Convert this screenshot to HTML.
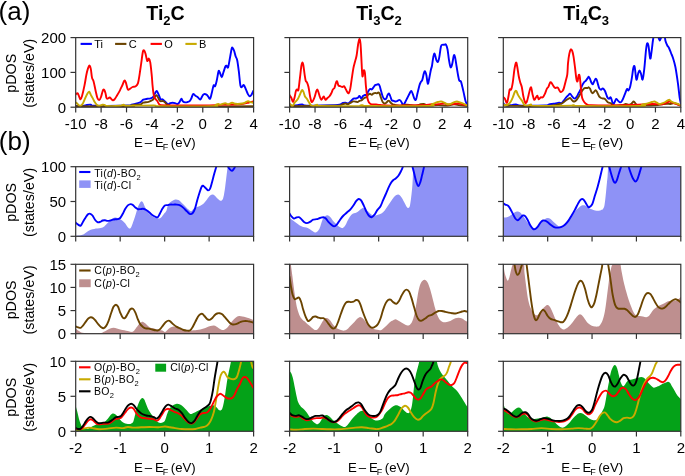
<!DOCTYPE html><html><head><meta charset="utf-8"><style>html,body{margin:0;padding:0;background:#fff;width:685px;height:476px;overflow:hidden}</style></head><body><svg width="685" height="476" viewBox="0 0 685 476" style="position:absolute;left:0;top:0;will-change:transform">
<defs><clipPath id="c0a"><rect x="75.7" y="37.6" width="177.9" height="69.6"/></clipPath><clipPath id="c0b1"><rect x="75.7" y="166.7" width="177.9" height="69.6"/></clipPath><clipPath id="c0b2"><rect x="75.7" y="264.3" width="177.9" height="69.4"/></clipPath><clipPath id="c0b3"><rect x="75.7" y="361.3" width="177.9" height="70"/></clipPath><clipPath id="c1a"><rect x="289.6" y="37.6" width="178.1" height="69.6"/></clipPath><clipPath id="c1b1"><rect x="289.6" y="166.7" width="178.1" height="69.6"/></clipPath><clipPath id="c1b2"><rect x="289.6" y="264.3" width="178.1" height="69.4"/></clipPath><clipPath id="c1b3"><rect x="289.6" y="361.3" width="178.1" height="70"/></clipPath><clipPath id="c2a"><rect x="503.3" y="37.6" width="177.5" height="69.6"/></clipPath><clipPath id="c2b1"><rect x="503.3" y="166.7" width="177.5" height="69.6"/></clipPath><clipPath id="c2b2"><rect x="503.3" y="264.3" width="177.5" height="69.4"/></clipPath><clipPath id="c2b3"><rect x="503.3" y="361.3" width="177.5" height="70"/></clipPath></defs>
<g font-family='"Liberation Sans", sans-serif' fill="#000">
<text x="-1.4" y="20" font-size="26">(a)</text>
<text x="-1.2" y="150.4" font-size="26">(b)</text>
<text x="165.5" y="19.6" font-size="19.6" font-weight="bold" text-anchor="middle">Ti<tspan font-size="13" dy="4.9">2</tspan><tspan dy="-4.9">C</tspan></text>
<text x="379.0" y="19.6" font-size="19.6" font-weight="bold" text-anchor="middle">Ti<tspan font-size="13" dy="4.9">3</tspan><tspan dy="-4.9">C</tspan><tspan font-size="13" dy="4.9">2</tspan></text>
<text x="586.2" y="19.6" font-size="19.6" font-weight="bold" text-anchor="middle">Ti<tspan font-size="13" dy="4.9">4</tspan><tspan dy="-4.9">C</tspan><tspan font-size="13" dy="4.9">3</tspan></text>
<g clip-path="url(#c0a)" fill="none" stroke-width="1.9" stroke-linejoin="round" stroke-linecap="round">
<path d="M75.70,106.00 C76.92,106.00 81.15,106.17 83.00,106.00 C84.85,105.83 85.50,105.22 86.80,105.00 C88.10,104.78 89.48,104.57 90.80,104.70 C92.12,104.83 88.57,105.68 94.70,105.80 C100.83,105.92 121.47,105.58 127.60,105.40 C133.73,105.22 129.97,105.03 131.50,104.70 C133.03,104.37 135.27,103.83 136.80,103.40 C138.33,102.97 139.62,102.72 140.70,102.10 C141.78,101.48 142.20,100.25 143.30,99.70 C144.40,99.15 146.08,99.02 147.30,98.80 C148.52,98.58 149.62,98.73 150.60,98.40 C151.58,98.07 152.43,97.72 153.20,96.80 C153.97,95.88 154.62,93.88 155.20,92.90 C155.78,91.92 156.23,90.87 156.70,90.90 C157.17,90.93 157.48,92.00 158.00,93.10 C158.52,94.20 159.38,96.45 159.80,97.50 C160.22,98.55 160.07,99.10 160.50,99.40 C160.93,99.70 161.83,99.13 162.40,99.30 C162.97,99.47 163.38,99.95 163.90,100.40 C164.42,100.85 164.97,101.48 165.50,102.00 C166.03,102.52 166.57,103.12 167.10,103.50 C167.63,103.88 168.18,104.37 168.70,104.30 C169.22,104.23 169.55,103.37 170.20,103.10 C170.85,102.83 171.80,102.70 172.60,102.70 C173.40,102.70 174.22,102.88 175.00,103.10 C175.78,103.32 176.60,104.07 177.30,104.00 C178.00,103.93 178.53,103.57 179.20,102.70 C179.87,101.83 180.70,99.05 181.30,98.80 C181.90,98.55 182.15,100.60 182.80,101.20 C183.45,101.80 184.40,102.27 185.20,102.40 C186.00,102.53 186.82,102.25 187.60,102.00 C188.38,101.75 189.25,101.57 189.90,100.90 C190.55,100.23 190.97,99.13 191.50,98.00 C192.03,96.87 192.45,94.48 193.10,94.10 C193.75,93.72 194.62,95.18 195.40,95.70 C196.18,96.22 197.00,96.55 197.80,97.20 C198.60,97.85 199.42,99.85 200.20,99.60 C200.98,99.35 201.85,96.62 202.50,95.70 C203.15,94.78 203.43,94.28 204.10,94.10 C204.77,93.92 205.83,94.22 206.50,94.60 C207.17,94.98 207.50,95.70 208.10,96.40 C208.70,97.10 209.50,99.32 210.10,98.80 C210.70,98.28 211.12,95.53 211.70,93.30 C212.28,91.07 213.03,86.58 213.60,85.40 C214.17,84.22 214.58,86.98 215.10,86.20 C215.62,85.42 216.12,83.20 216.70,80.70 C217.28,78.20 218.07,72.52 218.60,71.20 C219.13,69.88 219.37,71.80 219.90,72.80 C220.43,73.80 221.23,77.20 221.80,77.20 C222.37,77.20 222.70,74.58 223.30,72.80 C223.90,71.02 224.87,67.68 225.40,66.50 C225.93,65.32 226.05,65.57 226.50,65.70 C226.95,65.83 227.50,68.73 228.10,67.30 C228.70,65.87 229.50,60.25 230.10,57.10 C230.70,53.95 231.28,49.93 231.70,48.40 C232.12,46.87 232.20,47.50 232.60,47.90 C233.00,48.30 233.60,49.40 234.10,50.80 C234.60,52.20 235.08,54.73 235.60,56.30 C236.12,57.87 236.67,57.72 237.20,60.20 C237.73,62.68 238.27,67.00 238.80,71.20 C239.33,75.40 239.88,82.77 240.40,85.40 C240.92,88.03 241.33,87.05 241.90,87.00 C242.47,86.95 243.13,84.70 243.80,85.10 C244.47,85.50 245.22,87.90 245.90,89.40 C246.58,90.90 247.25,92.93 247.90,94.10 C248.55,95.27 249.22,96.27 249.80,96.40 C250.38,96.53 250.77,95.88 251.40,94.90 C252.03,93.92 253.23,91.23 253.60,90.50" stroke="#0000ff"/>
<path d="M75.70,106.30 C84.75,106.30 120.70,106.45 130.00,106.30 C139.30,106.15 130.37,105.67 131.50,105.40 C132.63,105.13 135.27,104.87 136.80,104.70 C138.33,104.53 139.62,104.73 140.70,104.40 C141.78,104.07 141.98,103.13 143.30,102.70 C144.62,102.27 147.07,102.23 148.60,101.80 C150.13,101.37 151.52,100.82 152.50,100.10 C153.48,99.38 153.83,98.32 154.50,97.50 C155.17,96.68 155.85,95.10 156.50,95.20 C157.15,95.30 157.82,97.13 158.40,98.10 C158.98,99.07 159.27,100.50 160.00,101.00 C160.73,101.50 161.98,100.90 162.80,101.10 C163.62,101.30 164.22,101.62 164.90,102.20 C165.58,102.78 166.10,104.05 166.90,104.60 C167.70,105.15 168.85,105.22 169.70,105.50 C170.55,105.78 158.02,106.17 172.00,106.30 C185.98,106.43 240.00,106.30 253.60,106.30" stroke="#6b4400"/>
<path d="M75.70,94.50 C75.80,94.38 75.95,94.00 76.30,93.80 C76.65,93.60 77.28,92.72 77.80,93.30 C78.32,93.88 78.95,96.30 79.40,97.30 C79.85,98.30 80.05,99.57 80.50,99.30 C80.95,99.03 81.43,98.02 82.10,95.70 C82.77,93.38 83.72,89.22 84.50,85.40 C85.28,81.58 86.02,76.08 86.80,72.80 C87.58,69.52 88.53,66.35 89.20,65.70 C89.87,65.05 90.33,66.92 90.80,68.90 C91.27,70.88 91.53,75.50 92.00,77.60 C92.47,79.70 93.02,79.40 93.60,81.50 C94.18,83.60 94.87,87.45 95.50,90.20 C96.13,92.95 96.75,96.38 97.40,98.00 C98.05,99.62 98.80,100.07 99.40,99.90 C100.00,99.73 100.35,98.72 101.00,97.00 C101.65,95.28 102.58,90.35 103.30,89.60 C104.02,88.85 104.77,91.10 105.30,92.50 C105.83,93.90 106.08,96.98 106.50,98.00 C106.92,99.02 107.25,98.68 107.80,98.60 C108.35,98.52 109.02,97.25 109.80,97.50 C110.58,97.75 111.73,99.77 112.50,100.10 C113.27,100.43 113.65,100.27 114.40,99.50 C115.15,98.73 116.12,96.93 117.00,95.50 C117.88,94.07 119.08,92.05 119.70,90.90 C120.32,89.75 120.27,89.52 120.70,88.60 C121.13,87.68 121.70,86.72 122.30,85.40 C122.90,84.08 123.72,81.22 124.30,80.70 C124.88,80.18 125.22,80.85 125.80,82.30 C126.38,83.75 127.07,88.35 127.80,89.40 C128.53,90.45 129.42,89.00 130.20,88.60 C130.98,88.20 131.58,87.40 132.50,87.00 C133.42,86.60 134.78,86.85 135.70,86.20 C136.62,85.55 137.35,85.07 138.00,83.10 C138.65,81.13 139.07,77.68 139.60,74.40 C140.13,71.12 140.67,67.08 141.20,63.40 C141.73,59.72 142.33,54.47 142.80,52.30 C143.27,50.13 143.53,50.13 144.00,50.40 C144.47,50.67 145.07,52.13 145.60,53.90 C146.13,55.67 146.67,60.22 147.20,61.00 C147.73,61.78 148.28,58.33 148.80,58.60 C149.32,58.87 149.80,59.70 150.30,62.60 C150.80,65.50 151.43,72.27 151.80,76.00 C152.17,79.73 152.23,82.18 152.50,85.00 C152.77,87.82 153.07,90.82 153.40,92.90 C153.73,94.98 153.88,96.18 154.50,97.50 C155.12,98.82 156.33,99.70 157.10,100.80 C157.87,101.90 158.43,103.37 159.10,104.10 C159.77,104.83 159.28,104.98 161.10,105.20 C162.92,105.42 163.52,105.35 170.00,105.40 C176.48,105.45 192.42,105.52 200.00,105.50 C207.58,105.48 211.77,105.45 215.50,105.30 C219.23,105.15 219.65,104.72 222.40,104.60 C225.15,104.48 228.53,104.72 232.00,104.60 C235.47,104.48 240.40,104.25 243.20,103.90 C246.00,103.55 247.07,102.95 248.80,102.50 C250.53,102.05 252.80,101.42 253.60,101.20" stroke="#ff0000"/>
<path d="M75.70,102.50 C75.80,102.53 75.87,102.33 76.30,102.70 C76.73,103.07 77.63,104.18 78.30,104.70 C78.97,105.22 79.53,106.02 80.30,105.80 C81.07,105.58 82.03,104.78 82.90,103.40 C83.77,102.02 84.73,99.15 85.50,97.50 C86.27,95.85 86.88,94.48 87.50,93.50 C88.12,92.52 88.65,91.37 89.20,91.60 C89.75,91.83 90.22,93.82 90.80,94.90 C91.38,95.98 92.05,96.90 92.70,98.10 C93.35,99.30 94.03,101.00 94.70,102.10 C95.37,103.20 95.93,104.08 96.70,104.70 C97.47,105.32 98.32,105.80 99.30,105.80 C100.28,105.80 101.72,104.83 102.60,104.70 C103.48,104.57 103.83,104.78 104.60,105.00 C105.37,105.22 104.68,105.87 107.20,106.00 C109.72,106.13 116.97,106.02 119.70,105.80 C122.43,105.58 122.28,104.70 123.60,104.70 C124.92,104.70 122.57,105.67 127.60,105.80 C132.63,105.93 148.40,105.42 153.80,105.50 C159.20,105.58 150.13,106.17 160.00,106.30 C169.87,106.43 203.75,106.52 213.00,106.30 C222.25,106.08 214.62,105.40 215.50,105.00 C216.38,104.60 217.47,103.97 218.30,103.90 C219.13,103.83 219.35,104.72 220.50,104.60 C221.65,104.48 223.95,103.23 225.20,103.20 C226.45,103.17 226.85,104.47 228.00,104.40 C229.15,104.33 230.85,102.90 232.10,102.80 C233.35,102.70 234.18,103.63 235.50,103.80 C236.82,103.97 238.48,103.97 240.00,103.80 C241.52,103.63 243.25,103.25 244.60,102.80 C245.95,102.35 247.12,101.20 248.10,101.10 C249.08,101.00 249.58,101.88 250.50,102.20 C251.42,102.52 253.08,102.87 253.60,103.00" stroke="#c8aa00"/>
</g>
<g clip-path="url(#c1a)" fill="none" stroke-width="1.9" stroke-linejoin="round" stroke-linecap="round">
<path d="M289.60,106.00 C290.92,105.85 295.40,105.37 297.50,105.10 C299.60,104.83 300.63,104.32 302.20,104.40 C303.77,104.48 301.43,105.47 306.90,105.60 C312.37,105.73 329.43,105.42 335.00,105.20 C340.57,104.98 338.98,104.67 340.30,104.30 C341.62,103.93 342.03,103.28 342.90,103.00 C343.77,102.72 344.63,102.52 345.50,102.60 C346.37,102.68 347.22,103.72 348.10,103.50 C348.98,103.28 349.92,102.12 350.80,101.30 C351.68,100.48 352.53,99.07 353.40,98.60 C354.27,98.13 355.27,98.63 356.00,98.50 C356.73,98.37 357.22,98.22 357.80,97.80 C358.38,97.38 358.92,95.88 359.50,96.00 C360.08,96.12 360.72,98.50 361.30,98.50 C361.88,98.50 362.42,96.58 363.00,96.00 C363.58,95.42 364.22,95.22 364.80,95.00 C365.38,94.78 365.92,95.33 366.50,94.70 C367.08,94.07 367.72,92.15 368.30,91.20 C368.88,90.25 369.42,89.30 370.00,89.00 C370.58,88.70 371.22,89.68 371.80,89.40 C372.38,89.12 372.92,88.02 373.50,87.30 C374.08,86.58 374.72,85.55 375.30,85.10 C375.88,84.65 376.50,84.75 377.00,84.60 C377.50,84.45 377.85,83.97 378.30,84.20 C378.75,84.43 379.25,84.90 379.70,86.00 C380.15,87.10 380.50,89.05 381.00,90.80 C381.50,92.55 382.12,95.12 382.70,96.50 C383.28,97.88 383.92,98.75 384.50,99.10 C385.08,99.45 385.70,99.27 386.20,98.60 C386.70,97.93 387.05,95.97 387.50,95.10 C387.95,94.23 388.45,93.25 388.90,93.40 C389.35,93.55 389.70,94.83 390.20,96.00 C390.70,97.17 391.32,99.60 391.90,100.40 C392.48,101.20 393.15,100.62 393.70,100.80 C394.25,100.98 394.63,101.43 395.20,101.50 C395.77,101.57 396.40,101.47 397.10,101.20 C397.80,100.93 398.75,99.90 399.40,99.90 C400.05,99.90 400.47,100.47 401.00,101.20 C401.53,101.93 402.15,103.65 402.60,104.30 C403.05,104.95 403.32,105.37 403.70,105.10 C404.08,104.83 404.30,103.88 404.90,102.70 C405.50,101.52 406.50,99.57 407.30,98.00 C408.10,96.43 409.05,94.48 409.70,93.30 C410.35,92.12 410.68,90.77 411.20,90.90 C411.72,91.03 412.27,92.78 412.80,94.10 C413.33,95.42 413.87,97.88 414.40,98.80 C414.93,99.72 415.48,100.52 416.00,99.60 C416.52,98.68 416.93,95.67 417.50,93.30 C418.07,90.93 418.87,87.23 419.40,85.40 C419.93,83.57 420.22,83.22 420.70,82.30 C421.18,81.38 421.78,81.35 422.30,79.90 C422.82,78.45 423.33,75.05 423.80,73.60 C424.27,72.15 424.67,70.93 425.10,71.20 C425.53,71.47 425.95,73.10 426.40,75.20 C426.85,77.30 427.30,83.42 427.80,83.80 C428.30,84.18 428.88,79.85 429.40,77.50 C429.92,75.15 430.47,71.67 430.90,69.70 C431.33,67.73 431.60,67.80 432.00,65.70 C432.40,63.60 432.87,59.12 433.30,57.10 C433.73,55.08 434.08,53.08 434.60,53.60 C435.12,54.12 435.83,58.83 436.40,60.20 C436.97,61.57 437.52,62.32 438.00,61.80 C438.48,61.28 438.82,59.60 439.30,57.10 C439.78,54.60 440.38,48.85 440.90,46.80 C441.42,44.75 441.83,45.13 442.40,44.80 C442.97,44.47 443.72,44.85 444.30,44.80 C444.88,44.75 445.37,43.77 445.90,44.50 C446.43,45.23 446.98,46.58 447.50,49.20 C448.02,51.82 448.48,57.18 449.00,60.20 C449.52,63.22 450.07,66.65 450.60,67.30 C451.13,67.95 451.67,66.07 452.20,64.10 C452.73,62.13 453.33,56.67 453.80,55.50 C454.27,54.33 454.53,55.27 455.00,57.10 C455.47,58.93 456.07,63.35 456.60,66.50 C457.13,69.65 457.75,73.63 458.20,76.00 C458.65,78.37 458.85,79.78 459.30,80.70 C459.75,81.62 460.38,80.45 460.90,81.50 C461.42,82.55 461.88,84.90 462.40,87.00 C462.92,89.10 463.47,91.73 464.00,94.10 C464.53,96.47 464.98,99.22 465.60,101.20 C466.22,103.18 467.35,105.20 467.70,106.00" stroke="#0000ff"/>
<path d="M289.60,106.20 C297.17,106.10 326.60,105.73 335.00,105.60 C343.40,105.47 338.68,105.65 340.00,105.40 C341.32,105.15 341.98,104.42 342.90,104.10 C343.82,103.78 344.63,103.47 345.50,103.50 C346.37,103.53 347.22,104.45 348.10,104.30 C348.98,104.15 349.92,103.08 350.80,102.60 C351.68,102.12 352.53,101.55 353.40,101.40 C354.27,101.25 355.27,101.58 356.00,101.70 C356.73,101.82 357.22,102.25 357.80,102.10 C358.38,101.95 358.92,101.08 359.50,100.80 C360.08,100.52 360.72,100.68 361.30,100.40 C361.88,100.12 362.42,99.57 363.00,99.10 C363.58,98.63 364.22,97.90 364.80,97.60 C365.38,97.30 365.92,97.78 366.50,97.30 C367.08,96.82 367.72,95.28 368.30,94.70 C368.88,94.12 369.42,93.80 370.00,93.80 C370.58,93.80 371.22,94.77 371.80,94.70 C372.38,94.63 372.92,93.68 373.50,93.40 C374.08,93.12 374.72,93.00 375.30,93.00 C375.88,93.00 376.50,93.48 377.00,93.40 C377.50,93.32 377.85,92.43 378.30,92.50 C378.75,92.57 379.25,92.92 379.70,93.80 C380.15,94.68 380.50,96.42 381.00,97.80 C381.50,99.18 382.12,101.15 382.70,102.10 C383.28,103.05 383.92,103.38 384.50,103.50 C385.08,103.62 385.62,103.25 386.20,102.80 C386.78,102.35 387.48,101.08 388.00,100.80 C388.52,100.52 388.80,100.73 389.30,101.10 C389.80,101.47 390.42,102.47 391.00,103.00 C391.58,103.53 392.13,104.00 392.80,104.30 C393.47,104.60 394.55,104.67 395.00,104.80 C395.45,104.93 394.63,104.97 395.50,105.10 C396.37,105.23 398.37,105.68 400.20,105.60 C402.03,105.52 404.67,104.68 406.50,104.60 C408.33,104.52 409.62,104.93 411.20,105.10 C412.78,105.27 414.42,105.73 416.00,105.60 C417.58,105.47 419.40,104.57 420.70,104.30 C422.00,104.03 422.75,103.87 423.80,104.00 C424.85,104.13 425.68,104.83 427.00,105.10 C428.32,105.37 429.87,105.60 431.70,105.60 C433.53,105.60 435.37,105.10 438.00,105.10 C440.63,105.10 444.87,105.73 447.50,105.60 C450.13,105.47 451.97,104.38 453.80,104.30 C455.63,104.22 456.18,104.82 458.50,105.10 C460.82,105.38 466.17,105.85 467.70,106.00" stroke="#6b4400"/>
<path d="M289.60,95.00 C289.65,95.12 289.58,95.18 289.90,95.70 C290.22,96.22 290.98,97.05 291.50,98.10 C292.02,99.15 292.48,102.13 293.00,102.00 C293.52,101.87 294.12,99.13 294.60,97.30 C295.08,95.47 295.48,92.32 295.90,91.00 C296.32,89.68 296.68,89.58 297.10,89.40 C297.52,89.22 297.95,91.62 298.40,89.90 C298.85,88.18 299.30,83.13 299.80,79.10 C300.30,75.07 301.00,68.45 301.40,65.70 C301.80,62.95 301.88,62.72 302.20,62.60 C302.52,62.48 302.90,63.03 303.30,65.00 C303.70,66.97 304.20,71.78 304.60,74.40 C305.00,77.02 305.32,79.38 305.70,80.70 C306.08,82.02 306.43,81.25 306.90,82.30 C307.37,83.35 307.97,84.63 308.50,87.00 C309.03,89.37 309.58,94.00 310.10,96.50 C310.62,99.00 311.08,101.35 311.60,102.00 C312.12,102.65 312.67,101.32 313.20,100.40 C313.73,99.48 314.32,97.95 314.80,96.50 C315.28,95.05 315.70,92.88 316.10,91.70 C316.50,90.52 316.83,89.40 317.20,89.40 C317.57,89.40 317.92,90.65 318.30,91.70 C318.68,92.75 319.03,94.38 319.50,95.70 C319.97,97.02 320.57,99.22 321.10,99.60 C321.63,99.98 322.23,98.52 322.70,98.00 C323.17,97.48 323.43,96.18 323.90,96.50 C324.37,96.82 324.92,99.65 325.50,99.90 C326.08,100.15 326.77,98.57 327.40,98.00 C328.03,97.43 328.65,97.28 329.30,96.50 C329.95,95.72 330.70,94.48 331.30,93.30 C331.90,92.12 332.37,90.32 332.90,89.40 C333.43,88.48 333.97,88.98 334.50,87.80 C335.03,86.62 335.65,83.35 336.10,82.30 C336.55,81.25 336.82,80.98 337.20,81.50 C337.58,82.02 337.88,84.62 338.40,85.40 C338.92,86.18 339.63,85.93 340.30,86.20 C340.97,86.47 341.78,87.00 342.40,87.00 C343.02,87.00 343.48,85.93 344.00,86.20 C344.52,86.47 344.98,87.68 345.50,88.60 C346.02,89.52 346.57,90.92 347.10,91.70 C347.63,92.48 348.17,93.82 348.70,93.30 C349.23,92.78 349.78,91.10 350.30,88.60 C350.82,86.10 351.28,81.72 351.80,78.30 C352.32,74.88 352.87,70.85 353.40,68.10 C353.93,65.35 354.47,63.90 355.00,61.80 C355.53,59.70 356.08,58.38 356.60,55.50 C357.12,52.62 357.63,47.27 358.10,44.50 C358.57,41.73 359.00,39.03 359.40,38.90 C359.80,38.77 360.18,40.67 360.50,43.70 C360.82,46.73 360.98,51.72 361.30,57.10 C361.62,62.48 362.00,73.77 362.40,76.00 C362.80,78.23 363.28,71.03 363.70,70.50 C364.12,69.97 364.52,70.05 364.90,72.80 C365.28,75.55 365.55,82.67 366.00,87.00 C366.45,91.33 367.07,96.17 367.60,98.80 C368.13,101.43 368.55,101.87 369.20,102.80 C369.85,103.73 370.53,104.13 371.50,104.40 C372.47,104.67 374.10,104.37 375.00,104.40 C375.90,104.43 376.07,104.50 376.90,104.60 C377.73,104.70 377.68,104.83 380.00,105.00 C382.32,105.17 384.13,105.57 390.80,105.60 C397.47,105.63 413.18,105.42 420.00,105.20 C426.82,104.98 428.70,104.45 431.70,104.30 C434.70,104.15 435.90,104.43 438.00,104.30 C440.10,104.17 442.72,103.47 444.30,103.50 C445.88,103.53 445.92,104.42 447.50,104.50 C449.08,104.58 451.97,104.17 453.80,104.00 C455.63,103.83 457.13,103.47 458.50,103.50 C459.87,103.53 460.47,103.87 462.00,104.20 C463.53,104.53 466.75,105.28 467.70,105.50" stroke="#ff0000"/>
<path d="M289.60,103.60 C289.87,103.85 290.68,104.72 291.20,105.10 C291.72,105.48 292.05,106.42 292.70,105.90 C293.35,105.38 294.30,103.05 295.10,102.00 C295.90,100.95 296.72,100.78 297.50,99.60 C298.28,98.42 299.07,96.47 299.80,94.90 C300.53,93.33 301.30,90.73 301.90,90.20 C302.50,89.67 302.88,90.65 303.40,91.70 C303.92,92.75 304.42,95.32 305.00,96.50 C305.58,97.68 306.27,97.88 306.90,98.80 C307.53,99.72 308.13,100.95 308.80,102.00 C309.47,103.05 310.17,104.45 310.90,105.10 C311.63,105.75 312.15,105.97 313.20,105.90 C314.25,105.83 316.15,104.70 317.20,104.70 C318.25,104.70 312.37,105.70 319.50,105.90 C326.63,106.10 352.92,106.02 360.00,105.90 C367.08,105.78 361.00,105.18 362.00,105.20 C363.00,105.22 355.00,105.87 366.00,106.00 C377.00,106.13 417.05,106.28 428.00,106.00 C438.95,105.72 430.55,104.78 431.70,104.30 C432.85,103.82 433.85,103.48 434.90,103.10 C435.95,102.72 436.95,102.27 438.00,102.00 C439.05,101.73 440.15,101.38 441.20,101.50 C442.25,101.62 443.25,102.23 444.30,102.70 C445.35,103.17 446.47,104.08 447.50,104.30 C448.53,104.52 449.45,104.32 450.50,104.00 C451.55,103.68 452.73,102.82 453.80,102.40 C454.87,101.98 455.85,101.50 456.90,101.50 C457.95,101.50 459.05,102.07 460.10,102.40 C461.15,102.73 461.93,102.92 463.20,103.50 C464.47,104.08 466.95,105.50 467.70,105.90" stroke="#c8aa00"/>
</g>
<g clip-path="url(#c2a)" fill="none" stroke-width="1.9" stroke-linejoin="round" stroke-linecap="round">
<path d="M503.30,103.00 C503.45,103.23 503.53,103.97 504.20,104.40 C504.87,104.83 506.00,105.48 507.30,105.60 C508.60,105.72 510.55,105.30 512.00,105.10 C513.45,104.90 514.42,104.32 516.00,104.40 C517.58,104.48 516.67,105.42 521.50,105.60 C526.33,105.78 540.50,105.67 545.00,105.50 C549.50,105.33 547.33,104.85 548.50,104.60 C549.67,104.35 550.83,104.18 552.00,104.00 C553.17,103.82 554.33,103.70 555.50,103.50 C556.67,103.30 557.98,102.87 559.00,102.80 C560.02,102.73 560.80,103.47 561.60,103.10 C562.40,102.73 563.07,101.52 563.80,100.60 C564.53,99.68 565.27,98.47 566.00,97.60 C566.73,96.73 567.53,96.07 568.20,95.40 C568.87,94.73 569.42,93.53 570.00,93.60 C570.58,93.67 571.12,95.07 571.70,95.80 C572.28,96.53 572.92,97.55 573.50,98.00 C574.08,98.45 574.62,98.78 575.20,98.50 C575.78,98.22 576.42,97.23 577.00,96.30 C577.58,95.37 578.12,94.00 578.70,92.90 C579.28,91.80 579.92,90.97 580.50,89.70 C581.08,88.43 581.62,86.53 582.20,85.30 C582.78,84.07 583.42,83.03 584.00,82.30 C584.58,81.57 585.12,81.57 585.70,80.90 C586.28,80.23 586.98,78.98 587.50,78.30 C588.02,77.62 588.37,76.65 588.80,76.80 C589.23,76.95 589.67,78.22 590.10,79.20 C590.53,80.18 590.97,81.83 591.40,82.70 C591.83,83.57 592.27,84.55 592.70,84.40 C593.13,84.25 593.52,82.73 594.00,81.80 C594.48,80.87 595.13,79.08 595.60,78.80 C596.07,78.52 596.40,79.17 596.80,80.10 C597.20,81.03 597.58,83.02 598.00,84.40 C598.42,85.78 598.80,87.52 599.30,88.40 C599.80,89.28 600.42,89.70 601.00,89.70 C601.58,89.70 602.13,88.18 602.80,88.40 C603.47,88.62 604.25,89.52 605.00,91.00 C605.75,92.48 606.63,95.98 607.30,97.30 C607.97,98.62 608.43,98.90 609.00,98.90 C609.57,98.90 610.13,96.73 610.70,97.30 C611.27,97.87 611.92,101.18 612.40,102.30 C612.88,103.42 613.18,104.13 613.60,104.00 C614.02,103.87 614.47,102.35 614.90,101.50 C615.33,100.65 615.70,99.05 616.20,98.90 C616.70,98.75 617.28,100.03 617.90,100.60 C618.52,101.17 619.28,102.15 619.90,102.30 C620.52,102.45 621.03,102.20 621.60,101.50 C622.17,100.80 622.68,99.50 623.30,98.10 C623.92,96.70 624.68,94.63 625.30,93.10 C625.92,91.57 626.48,89.33 627.00,88.90 C627.52,88.47 627.90,90.78 628.40,90.50 C628.90,90.22 629.45,89.15 630.00,87.20 C630.55,85.25 631.13,82.03 631.70,78.80 C632.27,75.57 632.90,69.77 633.40,67.80 C633.90,65.83 634.20,65.03 634.70,67.00 C635.20,68.97 635.83,78.48 636.40,79.60 C636.97,80.72 637.58,75.23 638.10,73.70 C638.62,72.17 639.02,70.40 639.50,70.40 C639.98,70.40 640.48,72.17 641.00,73.70 C641.52,75.23 642.05,80.43 642.60,79.60 C643.15,78.77 643.73,73.60 644.30,68.70 C644.87,63.80 645.53,54.40 646.00,50.20 C646.47,46.00 646.68,44.20 647.10,43.50 C647.52,42.80 647.98,43.50 648.50,46.00 C649.02,48.50 649.70,57.50 650.20,58.50 C650.70,59.50 651.03,55.08 651.50,52.00 C651.97,48.92 652.50,43.17 653.00,40.00 C653.50,36.83 654.00,34.50 654.50,33.00 C655.00,31.50 655.42,30.50 656.00,31.00 C656.58,31.50 657.38,34.42 658.00,36.00 C658.62,37.58 659.15,40.33 659.70,40.50 C660.25,40.67 660.75,38.25 661.30,37.00 C661.85,35.75 662.47,33.33 663.00,33.00 C663.53,32.67 664.08,33.67 664.50,35.00 C664.92,36.33 665.03,39.25 665.50,41.00 C665.97,42.75 666.72,44.33 667.30,45.50 C667.88,46.67 668.38,46.75 669.00,48.00 C669.62,49.25 670.33,51.33 671.00,53.00 C671.67,54.67 672.27,55.67 673.00,58.00 C673.73,60.33 674.57,62.70 675.40,67.00 C676.23,71.30 677.30,78.75 678.00,83.80 C678.70,88.85 679.10,93.93 679.60,97.30 C680.10,100.67 680.77,102.88 681.00,104.00" stroke="#0000ff"/>
<path d="M503.30,105.00 C503.58,105.08 502.75,105.35 505.00,105.50 C507.25,105.65 510.13,105.83 516.80,105.90 C523.47,105.97 539.13,105.97 545.00,105.90 C550.87,105.83 550.10,105.67 552.00,105.50 C553.90,105.33 555.23,105.15 556.40,104.90 C557.57,104.65 558.13,104.20 559.00,104.00 C559.87,103.80 560.80,104.03 561.60,103.70 C562.40,103.37 563.07,102.58 563.80,102.00 C564.53,101.42 565.27,100.72 566.00,100.20 C566.73,99.68 567.53,99.27 568.20,98.90 C568.87,98.53 569.42,97.85 570.00,98.00 C570.58,98.15 571.12,99.22 571.70,99.80 C572.28,100.38 572.92,101.28 573.50,101.50 C574.08,101.72 574.62,101.47 575.20,101.10 C575.78,100.73 576.42,100.03 577.00,99.30 C577.58,98.57 578.12,97.65 578.70,96.70 C579.28,95.75 579.92,94.62 580.50,93.60 C581.08,92.58 581.62,91.47 582.20,90.60 C582.78,89.73 583.42,88.83 584.00,88.40 C584.58,87.97 585.12,88.07 585.70,88.00 C586.28,87.93 586.98,88.12 587.50,88.00 C588.02,87.88 588.37,87.17 588.80,87.30 C589.23,87.43 589.67,88.03 590.10,88.80 C590.53,89.57 590.97,91.17 591.40,91.90 C591.83,92.63 592.27,93.20 592.70,93.20 C593.13,93.20 593.52,92.42 594.00,91.90 C594.48,91.38 595.13,90.17 595.60,90.10 C596.07,90.03 596.40,90.83 596.80,91.50 C597.20,92.17 597.58,93.23 598.00,94.10 C598.42,94.97 598.80,96.05 599.30,96.70 C599.80,97.35 600.42,97.70 601.00,98.00 C601.58,98.30 602.13,98.35 602.80,98.50 C603.47,98.65 604.17,98.27 605.00,98.90 C605.83,99.53 606.85,101.60 607.80,102.30 C608.75,103.00 609.93,102.68 610.70,103.10 C611.47,103.52 611.70,104.37 612.40,104.80 C613.10,105.23 613.37,105.62 614.90,105.70 C616.43,105.78 619.78,105.58 621.60,105.30 C623.42,105.02 624.67,104.08 625.80,104.00 C626.93,103.92 627.47,104.85 628.40,104.80 C629.33,104.75 630.52,104.25 631.40,103.70 C632.28,103.15 632.95,101.45 633.70,101.50 C634.45,101.55 635.12,103.37 635.90,104.00 C636.68,104.63 635.17,105.08 638.40,105.30 C641.63,105.52 651.37,105.47 655.30,105.30 C659.23,105.13 660.05,104.57 662.00,104.30 C663.95,104.03 665.60,103.75 667.00,103.70 C668.40,103.65 669.27,104.10 670.40,104.00 C671.53,103.90 672.68,103.10 673.80,103.10 C674.92,103.10 675.93,103.57 677.10,104.00 C678.27,104.43 680.18,105.42 680.80,105.70" stroke="#6b4400"/>
<path d="M503.30,97.00 C503.32,97.05 503.13,97.00 503.40,97.30 C503.67,97.60 504.30,97.88 504.90,98.80 C505.50,99.72 506.38,103.32 507.00,102.80 C507.62,102.28 508.15,97.93 508.60,95.70 C509.05,93.47 509.27,90.45 509.70,89.40 C510.13,88.35 510.68,90.58 511.20,89.40 C511.72,88.22 512.27,85.58 512.80,82.30 C513.33,79.02 513.87,72.98 514.40,69.70 C514.93,66.42 515.53,63.13 516.00,62.60 C516.47,62.07 516.75,64.27 517.20,66.50 C517.65,68.73 518.20,73.37 518.70,76.00 C519.20,78.63 519.68,80.47 520.20,82.30 C520.72,84.13 521.27,84.63 521.80,87.00 C522.33,89.37 522.80,93.87 523.40,96.50 C524.00,99.13 524.80,102.02 525.40,102.80 C526.00,103.58 526.47,102.52 527.00,101.20 C527.53,99.88 528.07,97.00 528.60,94.90 C529.13,92.80 529.75,89.78 530.20,88.60 C530.65,87.42 530.92,86.88 531.30,87.80 C531.68,88.72 532.03,92.13 532.50,94.10 C532.97,96.07 533.57,98.95 534.10,99.60 C534.63,100.25 535.17,98.65 535.70,98.00 C536.23,97.35 536.78,95.48 537.30,95.70 C537.82,95.92 538.23,99.03 538.80,99.30 C539.37,99.57 540.03,97.63 540.70,97.30 C541.37,96.97 542.08,97.92 542.80,97.30 C543.52,96.68 544.33,95.02 545.00,93.60 C545.67,92.18 546.22,89.97 546.80,88.80 C547.38,87.63 547.92,87.68 548.50,86.60 C549.08,85.52 549.72,82.80 550.30,82.30 C550.88,81.80 551.42,82.88 552.00,83.60 C552.58,84.32 553.22,85.87 553.80,86.60 C554.38,87.33 554.85,87.85 555.50,88.00 C556.15,88.15 557.12,87.22 557.70,87.50 C558.28,87.78 558.48,88.93 559.00,89.70 C559.52,90.47 560.22,91.88 560.80,92.10 C561.38,92.32 562.00,91.62 562.50,91.00 C563.00,90.38 563.28,90.00 563.80,88.40 C564.32,86.80 565.02,83.73 565.60,81.40 C566.18,79.07 566.90,77.40 567.30,74.40 C567.70,71.40 567.67,66.82 568.00,63.40 C568.33,59.98 568.83,56.22 569.30,53.90 C569.77,51.58 570.32,50.02 570.80,49.50 C571.28,48.98 571.75,49.67 572.20,50.80 C572.65,51.93 573.02,53.42 573.50,56.30 C573.98,59.18 574.63,64.43 575.10,68.10 C575.57,71.77 575.90,76.07 576.30,78.30 C576.70,80.53 577.10,82.02 577.50,81.50 C577.90,80.98 578.32,75.98 578.70,75.20 C579.08,74.42 579.40,74.30 579.80,76.80 C580.20,79.30 580.70,86.67 581.10,90.20 C581.50,93.73 581.68,96.03 582.20,98.00 C582.72,99.97 583.42,100.93 584.20,102.00 C584.98,103.07 585.77,103.87 586.90,104.40 C588.03,104.93 587.15,105.02 591.00,105.20 C594.85,105.38 602.10,105.57 610.00,105.50 C617.90,105.43 631.42,105.05 638.40,104.80 C645.38,104.55 647.97,104.10 651.90,104.00 C655.83,103.90 659.33,104.53 662.00,104.20 C664.67,103.87 666.63,102.45 667.90,102.00 C669.17,101.55 668.90,101.40 669.60,101.50 C670.30,101.60 671.13,102.23 672.10,102.60 C673.07,102.97 673.95,103.22 675.40,103.70 C676.85,104.18 679.90,105.20 680.80,105.50" stroke="#ff0000"/>
<path d="M503.30,104.40 C503.70,104.52 504.90,105.10 505.70,105.10 C506.50,105.10 507.30,104.92 508.10,104.40 C508.90,103.88 509.72,103.18 510.50,102.00 C511.28,100.82 512.07,99.02 512.80,97.30 C513.53,95.58 514.32,92.75 514.90,91.70 C515.48,90.65 515.78,90.47 516.30,91.00 C516.82,91.53 517.40,93.73 518.00,94.90 C518.60,96.07 519.18,96.95 519.90,98.00 C520.62,99.05 521.52,100.02 522.30,101.20 C523.08,102.38 523.68,104.37 524.60,105.10 C525.52,105.83 526.73,105.72 527.80,105.60 C528.87,105.48 529.95,104.35 531.00,104.40 C532.05,104.45 527.53,105.70 534.10,105.90 C540.67,106.10 563.83,105.73 570.40,105.60 C576.97,105.47 572.23,105.05 573.50,105.10 C574.77,105.15 566.92,105.75 578.00,105.90 C589.08,106.05 629.37,106.18 640.00,106.00 C650.63,105.82 640.93,105.13 641.80,104.80 C642.67,104.47 644.08,104.28 645.20,104.00 C646.32,103.72 647.38,103.43 648.50,103.10 C649.62,102.77 650.92,102.27 651.90,102.00 C652.88,101.73 653.57,101.40 654.40,101.50 C655.23,101.60 656.05,102.18 656.90,102.60 C657.75,103.02 658.52,103.92 659.50,104.00 C660.48,104.08 661.82,103.43 662.80,103.10 C663.78,102.77 664.55,102.47 665.40,102.00 C666.25,101.53 667.20,100.67 667.90,100.30 C668.60,99.93 669.05,99.60 669.60,99.80 C670.15,100.00 670.50,101.03 671.20,101.50 C671.90,101.97 672.82,102.23 673.80,102.60 C674.78,102.97 675.93,103.25 677.10,103.70 C678.27,104.15 680.18,105.03 680.80,105.30" stroke="#c8aa00"/>
</g>
<g clip-path="url(#c0b1)">
<path d="M74.70,237.30 L75.70,235.80 C76.53,235.72 79.30,235.60 80.70,235.30 C82.10,235.00 82.97,234.63 84.10,234.00 C85.23,233.37 86.38,232.20 87.50,231.50 C88.62,230.80 89.68,230.23 90.80,229.80 C91.92,229.37 93.08,229.10 94.20,228.90 C95.32,228.70 96.38,228.73 97.50,228.60 C98.62,228.47 99.77,228.47 100.90,228.10 C102.03,227.73 103.18,227.23 104.30,226.40 C105.42,225.57 106.62,224.08 107.60,223.10 C108.58,222.12 109.35,221.27 110.20,220.50 C111.05,219.73 111.87,219.00 112.70,218.50 C113.53,218.00 114.37,217.58 115.20,217.50 C116.03,217.42 116.87,217.72 117.70,218.00 C118.53,218.28 119.35,218.72 120.20,219.20 C121.05,219.68 121.95,220.17 122.80,220.90 C123.65,221.63 124.47,222.53 125.30,223.60 C126.13,224.67 127.05,226.47 127.80,227.30 C128.55,228.13 129.18,228.75 129.80,228.60 C130.42,228.45 130.85,227.75 131.50,226.40 C132.15,225.05 132.97,222.60 133.70,220.50 C134.43,218.40 135.20,216.03 135.90,213.80 C136.60,211.57 137.23,208.92 137.90,207.10 C138.57,205.28 139.28,203.88 139.90,202.90 C140.52,201.92 141.03,201.20 141.60,201.20 C142.17,201.20 142.73,201.92 143.30,202.90 C143.87,203.88 144.45,205.85 145.00,207.10 C145.55,208.35 145.97,209.33 146.60,210.40 C147.23,211.47 148.00,212.60 148.80,213.50 C149.60,214.40 150.55,215.18 151.40,215.80 C152.25,216.42 153.07,216.83 153.90,217.20 C154.73,217.57 155.57,217.78 156.40,218.00 C157.23,218.22 158.07,218.63 158.90,218.50 C159.73,218.37 160.55,217.98 161.40,217.20 C162.25,216.42 163.15,214.93 164.00,213.80 C164.85,212.67 165.77,212.02 166.50,210.40 C167.23,208.78 167.53,205.63 168.40,204.10 C169.27,202.57 170.58,201.97 171.70,201.20 C172.82,200.43 173.97,199.70 175.10,199.50 C176.23,199.30 177.38,199.43 178.50,200.00 C179.62,200.57 180.68,201.87 181.80,202.90 C182.92,203.93 184.08,205.08 185.20,206.20 C186.32,207.32 187.52,208.75 188.50,209.60 C189.48,210.45 190.25,211.43 191.10,211.30 C191.95,211.17 192.62,209.50 193.60,208.80 C194.58,208.10 195.88,207.62 197.00,207.10 C198.12,206.58 199.18,206.32 200.30,205.70 C201.42,205.08 202.58,204.43 203.70,203.40 C204.82,202.37 205.93,200.80 207.00,199.50 C208.07,198.20 209.12,196.43 210.10,195.60 C211.08,194.77 212.02,194.40 212.90,194.50 C213.78,194.60 214.55,195.45 215.40,196.20 C216.25,196.95 217.15,198.25 218.00,199.00 C218.85,199.75 219.67,200.75 220.50,200.70 C221.33,200.65 222.30,200.43 223.00,198.70 C223.70,196.97 224.13,193.95 224.70,190.30 C225.27,186.65 225.92,180.73 226.40,176.80 C226.88,172.87 227.30,169.50 227.60,166.70 C227.90,163.90 228.10,161.12 228.20,160.00 L254.60,160.00 L254.60,237.30 Z" fill="#8e92f6"/>
<path d="M75.70,222.60 C75.75,222.68 75.58,222.75 76.00,223.10 C76.42,223.45 77.42,224.28 78.20,224.70 C78.98,225.12 79.87,226.15 80.70,225.60 C81.53,225.05 82.35,222.80 83.20,221.40 C84.05,220.00 84.95,218.42 85.80,217.20 C86.65,215.98 87.55,214.67 88.30,214.10 C89.05,213.53 89.60,213.57 90.30,213.80 C91.00,214.03 91.72,214.52 92.50,215.50 C93.28,216.48 94.17,218.58 95.00,219.70 C95.83,220.82 96.65,221.83 97.50,222.20 C98.35,222.57 99.25,222.18 100.10,221.90 C100.95,221.62 101.77,220.78 102.60,220.50 C103.43,220.22 104.27,220.13 105.10,220.20 C105.93,220.27 106.75,220.85 107.60,220.90 C108.45,220.95 109.35,220.70 110.20,220.50 C111.05,220.30 111.87,219.92 112.70,219.70 C113.53,219.48 114.37,219.28 115.20,219.20 C116.03,219.12 116.87,219.40 117.70,219.20 C118.53,219.00 119.35,218.90 120.20,218.00 C121.05,217.10 121.95,215.33 122.80,213.80 C123.65,212.27 124.47,210.20 125.30,208.80 C126.13,207.40 126.88,206.18 127.80,205.40 C128.72,204.62 129.95,204.15 130.80,204.10 C131.65,204.05 132.13,204.55 132.90,205.10 C133.67,205.65 134.57,206.73 135.40,207.40 C136.23,208.07 137.07,208.82 137.90,209.10 C138.73,209.38 139.57,209.15 140.40,209.10 C141.23,209.05 142.05,208.72 142.90,208.80 C143.75,208.88 144.65,209.18 145.50,209.60 C146.35,210.02 147.17,210.65 148.00,211.30 C148.83,211.95 149.67,212.80 150.50,213.50 C151.33,214.20 152.15,214.95 153.00,215.50 C153.85,216.05 154.82,216.52 155.60,216.80 C156.38,217.08 157.00,217.70 157.70,217.20 C158.40,216.70 159.03,215.20 159.80,213.80 C160.57,212.40 161.47,210.20 162.30,208.80 C163.13,207.40 163.93,206.02 164.80,205.40 C165.67,204.78 166.63,205.23 167.50,205.10 C168.37,204.97 169.02,204.68 170.00,204.60 C170.98,204.52 172.27,204.60 173.40,204.60 C174.53,204.60 175.68,204.47 176.80,204.60 C177.92,204.73 178.98,204.85 180.10,205.40 C181.22,205.95 182.37,206.92 183.50,207.90 C184.63,208.88 185.78,210.27 186.90,211.30 C188.02,212.33 189.23,213.82 190.20,214.10 C191.17,214.38 191.92,213.88 192.70,213.00 C193.48,212.12 194.18,210.77 194.90,208.80 C195.62,206.83 196.23,203.87 197.00,201.20 C197.77,198.53 198.67,195.32 199.50,192.80 C200.33,190.28 201.17,187.08 202.00,186.10 C202.83,185.12 203.52,186.20 204.50,186.90 C205.48,187.60 206.97,190.02 207.90,190.30 C208.83,190.58 209.40,190.00 210.10,188.60 C210.80,187.20 211.43,184.28 212.10,181.90 C212.77,179.52 213.40,176.83 214.10,174.30 C214.80,171.77 215.73,168.75 216.30,166.70 C216.87,164.65 215.80,162.78 217.50,162.00 C219.20,161.22 224.73,161.22 226.50,162.00 C228.27,162.78 227.57,165.50 228.10,166.70 C228.63,167.90 229.07,168.50 229.70,169.20 C230.33,169.90 231.25,170.90 231.90,170.90 C232.55,170.90 233.12,169.83 233.60,169.20 C234.08,168.57 234.40,168.13 234.80,167.10 C235.20,166.07 235.80,163.68 236.00,163.00" fill="none" stroke="#0000ff" stroke-width="1.9" stroke-linejoin="round" stroke-linecap="round"/>
</g>
<g clip-path="url(#c1b1)">
<path d="M288.60,237.30 L289.60,217.80 C290.17,218.25 291.87,219.62 293.00,220.50 C294.13,221.38 295.27,222.25 296.40,223.10 C297.53,223.95 298.68,224.97 299.80,225.60 C300.92,226.23 301.98,226.57 303.10,226.90 C304.22,227.23 305.37,227.20 306.50,227.60 C307.63,228.00 308.78,228.65 309.90,229.30 C311.02,229.95 312.23,230.95 313.20,231.50 C314.17,232.05 314.85,232.75 315.70,232.60 C316.55,232.45 317.53,231.63 318.30,230.60 C319.07,229.57 319.60,228.22 320.30,226.40 C321.00,224.58 321.72,221.38 322.50,219.70 C323.28,218.02 324.17,217.05 325.00,216.30 C325.83,215.55 326.67,215.12 327.50,215.20 C328.33,215.28 329.15,215.97 330.00,216.80 C330.85,217.63 331.75,219.15 332.60,220.20 C333.45,221.25 334.27,222.20 335.10,223.10 C335.93,224.00 336.77,224.90 337.60,225.60 C338.43,226.30 339.27,226.88 340.10,227.30 C340.93,227.72 341.75,228.38 342.60,228.10 C343.45,227.82 344.35,226.87 345.20,225.60 C346.05,224.33 346.87,222.05 347.70,220.50 C348.53,218.95 349.37,217.42 350.20,216.30 C351.03,215.18 351.85,214.35 352.70,213.80 C353.55,213.25 354.45,213.33 355.30,213.00 C356.15,212.67 356.97,212.37 357.80,211.80 C358.63,211.23 359.47,210.25 360.30,209.60 C361.13,208.95 361.95,208.03 362.80,207.90 C363.65,207.77 364.55,208.23 365.40,208.80 C366.25,209.37 367.07,210.47 367.90,211.30 C368.73,212.13 369.57,213.10 370.40,213.80 C371.23,214.50 372.07,215.22 372.90,215.50 C373.73,215.78 374.55,215.62 375.40,215.50 C376.25,215.38 377.00,215.13 378.00,214.80 C379.00,214.47 380.28,214.23 381.40,213.50 C382.52,212.77 383.58,211.75 384.70,210.40 C385.82,209.05 386.97,207.07 388.10,205.40 C389.23,203.73 390.38,201.93 391.50,200.40 C392.62,198.87 393.68,197.18 394.80,196.20 C395.92,195.22 397.13,194.37 398.20,194.50 C399.27,194.63 400.22,195.75 401.20,197.00 C402.18,198.25 403.20,200.38 404.10,202.00 C405.00,203.62 405.90,205.72 406.60,206.70 C407.30,207.68 407.73,208.12 408.30,207.90 C408.87,207.68 409.45,207.78 410.00,205.40 C410.55,203.02 411.18,197.25 411.60,193.60 C412.02,189.95 412.27,186.85 412.50,183.50 C412.73,180.15 412.87,176.30 413.00,173.50 C413.13,170.70 413.22,168.95 413.30,166.70 C413.38,164.45 413.47,161.12 413.50,160.00 L468.70,160.00 L468.70,237.30 Z" fill="#8e92f6"/>
<path d="M289.60,213.50 C289.62,213.55 289.40,213.33 289.70,213.80 C290.00,214.27 290.70,215.52 291.40,216.30 C292.10,217.08 293.07,218.30 293.90,218.50 C294.73,218.70 295.57,217.72 296.40,217.50 C297.23,217.28 298.12,216.97 298.90,217.20 C299.68,217.43 300.25,218.12 301.10,218.90 C301.95,219.68 303.05,221.20 304.00,221.90 C304.95,222.60 305.82,223.10 306.80,223.10 C307.78,223.10 308.83,222.47 309.90,221.90 C310.97,221.33 312.08,220.15 313.20,219.70 C314.32,219.25 315.47,219.48 316.60,219.20 C317.73,218.92 318.88,218.33 320.00,218.00 C321.12,217.67 322.33,217.12 323.30,217.20 C324.27,217.28 324.95,217.72 325.80,218.50 C326.65,219.28 327.47,220.87 328.40,221.90 C329.33,222.93 330.43,223.95 331.40,224.70 C332.37,225.45 333.30,226.40 334.20,226.40 C335.10,226.40 335.82,225.82 336.80,224.70 C337.78,223.58 338.98,221.23 340.10,219.70 C341.22,218.17 342.37,216.70 343.50,215.50 C344.63,214.30 345.78,213.48 346.90,212.50 C348.02,211.52 349.15,210.73 350.20,209.60 C351.25,208.47 352.22,207.10 353.20,205.70 C354.18,204.30 355.20,202.32 356.10,201.20 C357.00,200.08 357.77,199.13 358.60,199.00 C359.43,198.87 360.25,199.33 361.10,200.40 C361.95,201.47 362.85,203.58 363.70,205.40 C364.55,207.22 365.37,209.62 366.20,211.30 C367.03,212.98 367.78,214.52 368.70,215.50 C369.62,216.48 370.72,217.35 371.70,217.20 C372.68,217.05 373.70,215.73 374.60,214.60 C375.50,213.47 376.12,211.80 377.10,210.40 C378.08,209.00 379.52,207.87 380.50,206.20 C381.48,204.53 382.15,202.35 383.00,200.40 C383.85,198.45 384.75,196.47 385.60,194.50 C386.45,192.53 387.27,190.43 388.10,188.60 C388.93,186.77 389.77,184.90 390.60,183.50 C391.43,182.10 392.25,181.03 393.10,180.20 C393.95,179.37 394.85,179.20 395.70,178.50 C396.55,177.80 397.37,177.12 398.20,176.00 C399.03,174.88 399.92,173.35 400.70,171.80 C401.48,170.25 402.35,168.33 402.90,166.70 C403.45,165.07 402.57,162.78 404.00,162.00 C405.43,161.22 410.08,161.22 411.50,162.00 C412.92,162.78 412.05,164.78 412.50,166.70 C412.95,168.62 413.57,170.97 414.20,173.50 C414.83,176.03 415.60,179.80 416.30,181.90 C417.00,184.00 417.72,186.10 418.40,186.10 C419.08,186.10 419.78,183.73 420.40,181.90 C421.02,180.07 421.55,177.35 422.10,175.10 C422.65,172.85 423.28,170.42 423.70,168.40 C424.12,166.38 424.45,163.90 424.60,163.00" fill="none" stroke="#0000ff" stroke-width="1.9" stroke-linejoin="round" stroke-linecap="round"/>
</g>
<g clip-path="url(#c2b1)">
<path d="M502.30,237.30 L503.30,217.20 C503.75,217.25 504.98,217.65 506.00,217.50 C507.02,217.35 508.27,216.92 509.40,216.30 C510.53,215.68 511.68,214.55 512.80,213.80 C513.92,213.05 515.12,212.13 516.10,211.80 C517.08,211.47 517.85,211.52 518.70,211.80 C519.55,212.08 520.23,212.47 521.20,213.50 C522.17,214.53 523.38,216.40 524.50,218.00 C525.62,219.60 526.77,221.62 527.90,223.10 C529.03,224.58 530.18,225.98 531.30,226.90 C532.42,227.82 533.48,228.60 534.60,228.60 C535.72,228.60 536.87,227.82 538.00,226.90 C539.13,225.98 540.28,224.38 541.40,223.10 C542.52,221.82 543.58,220.05 544.70,219.20 C545.82,218.35 546.98,217.92 548.10,218.00 C549.22,218.08 550.28,218.85 551.40,219.70 C552.52,220.55 553.67,222.07 554.80,223.10 C555.93,224.13 557.08,225.35 558.20,225.90 C559.32,226.45 560.38,226.73 561.50,226.40 C562.62,226.07 563.77,225.02 564.90,223.90 C566.03,222.78 567.18,221.15 568.30,219.70 C569.42,218.25 570.48,216.60 571.60,215.20 C572.72,213.80 573.87,212.52 575.00,211.30 C576.13,210.08 577.28,208.88 578.40,207.90 C579.52,206.92 580.58,205.82 581.70,205.40 C582.82,204.98 584.12,205.12 585.10,205.40 C586.08,205.68 586.77,206.53 587.60,207.10 C588.43,207.67 589.13,208.33 590.10,208.80 C591.07,209.27 592.30,209.57 593.40,209.90 C594.50,210.23 595.58,210.72 596.70,210.80 C597.82,210.88 599.13,210.62 600.10,210.40 C601.07,210.18 601.82,210.15 602.50,209.50 C603.18,208.85 603.75,208.08 604.20,206.50 C604.65,204.92 604.90,202.35 605.20,200.00 C605.50,197.65 605.70,195.40 606.00,192.40 C606.30,189.40 606.73,184.70 607.00,182.00 C607.27,179.30 607.42,178.73 607.60,176.20 C607.78,173.67 607.95,169.50 608.10,166.80 C608.25,164.10 608.43,161.13 608.50,160.00 L681.80,160.00 L681.80,237.30 Z" fill="#8e92f6"/>
<path d="M503.30,203.40 C503.62,203.60 504.40,204.22 505.20,204.60 C506.00,204.98 507.27,205.00 508.10,205.70 C508.93,206.40 509.42,207.45 510.20,208.80 C510.98,210.15 511.95,212.18 512.80,213.80 C513.65,215.42 514.47,217.43 515.30,218.50 C516.13,219.57 516.97,220.28 517.80,220.20 C518.63,220.12 519.45,218.78 520.30,218.00 C521.15,217.22 522.05,215.78 522.90,215.50 C523.75,215.22 524.57,215.47 525.40,216.30 C526.23,217.13 527.07,218.95 527.90,220.50 C528.73,222.05 529.55,224.20 530.40,225.60 C531.25,227.00 532.15,228.35 533.00,228.90 C533.85,229.45 534.67,229.32 535.50,228.90 C536.33,228.48 537.17,227.45 538.00,226.40 C538.83,225.35 539.67,223.58 540.50,222.60 C541.33,221.62 542.15,220.78 543.00,220.50 C543.85,220.22 544.75,220.55 545.60,220.90 C546.45,221.25 547.13,221.88 548.10,222.60 C549.07,223.32 550.28,224.42 551.40,225.20 C552.52,225.98 553.67,226.90 554.80,227.30 C555.93,227.70 557.08,227.67 558.20,227.60 C559.32,227.53 560.38,227.38 561.50,226.90 C562.62,226.42 563.77,225.70 564.90,224.70 C566.03,223.70 567.18,222.43 568.30,220.90 C569.42,219.37 570.48,217.38 571.60,215.50 C572.72,213.62 573.87,211.70 575.00,209.60 C576.13,207.50 577.42,204.58 578.40,202.90 C579.38,201.22 580.07,200.07 580.90,199.50 C581.73,198.93 582.55,198.85 583.40,199.50 C584.25,200.15 585.17,202.13 586.00,203.40 C586.83,204.67 587.65,206.63 588.40,207.10 C589.15,207.57 589.82,206.77 590.50,206.20 C591.18,205.63 591.75,205.52 592.50,203.70 C593.25,201.88 594.15,198.10 595.00,195.30 C595.85,192.50 596.80,189.70 597.60,186.90 C598.40,184.10 599.10,181.30 599.80,178.50 C600.50,175.70 601.33,172.07 601.80,170.10 C602.27,168.13 602.32,168.05 602.60,166.70 C602.88,165.35 602.52,162.78 603.50,162.00 C604.48,161.22 607.53,161.22 608.50,162.00 C609.47,162.78 608.80,164.52 609.30,166.70 C609.80,168.88 610.80,172.72 611.50,175.10 C612.20,177.48 612.88,179.73 613.50,181.00 C614.12,182.27 614.63,182.83 615.20,182.70 C615.77,182.57 616.28,181.73 616.90,180.20 C617.52,178.67 618.20,175.75 618.90,173.50 C619.60,171.25 620.58,168.62 621.10,166.70 C621.62,164.78 620.85,162.78 622.00,162.00 C623.15,161.22 626.88,161.22 628.00,162.00 C629.12,162.78 628.17,164.65 628.70,166.70 C629.23,168.75 630.42,172.20 631.20,174.30 C631.98,176.40 632.70,178.10 633.40,179.30 C634.10,180.50 634.73,181.50 635.40,181.50 C636.07,181.50 636.70,180.78 637.40,179.30 C638.10,177.82 638.95,174.70 639.60,172.60 C640.25,170.50 640.90,168.47 641.30,166.70 C641.70,164.93 641.88,162.78 642.00,162.00" fill="none" stroke="#0000ff" stroke-width="1.9" stroke-linejoin="round" stroke-linecap="round"/>
</g>
<g clip-path="url(#c0b2)">
<path d="M74.70,334.70 L75.70,328.50 C76.25,328.93 77.88,330.38 79.00,331.10 C80.12,331.82 80.43,332.43 82.40,332.80 C84.37,333.17 87.87,333.22 90.80,333.30 C93.73,333.38 97.90,333.52 100.00,333.30 C102.10,333.08 102.27,332.50 103.40,332.00 C104.53,331.50 105.67,330.87 106.80,330.30 C107.93,329.73 109.08,329.02 110.20,328.60 C111.32,328.18 112.38,327.80 113.50,327.80 C114.62,327.80 115.78,328.32 116.90,328.60 C118.02,328.88 118.95,329.22 120.20,329.50 C121.45,329.78 123.13,330.03 124.40,330.30 C125.67,330.57 126.67,330.82 127.80,331.10 C128.93,331.38 130.22,332.00 131.20,332.00 C132.18,332.00 132.87,331.80 133.70,331.10 C134.53,330.40 135.37,328.92 136.20,327.80 C137.03,326.68 137.85,325.33 138.70,324.40 C139.55,323.47 140.53,322.62 141.30,322.20 C142.07,321.78 142.60,321.67 143.30,321.90 C144.00,322.13 144.72,322.90 145.50,323.60 C146.28,324.30 147.17,325.40 148.00,326.10 C148.83,326.80 149.52,327.38 150.50,327.80 C151.48,328.22 152.78,328.32 153.90,328.60 C155.02,328.88 156.22,329.27 157.20,329.50 C158.18,329.73 158.95,329.82 159.80,330.00 C160.65,330.18 161.43,330.27 162.30,330.60 C163.17,330.93 164.13,332.10 165.00,332.00 C165.87,331.90 166.67,330.70 167.50,330.00 C168.33,329.30 169.02,328.37 170.00,327.80 C170.98,327.23 172.27,326.68 173.40,326.60 C174.53,326.52 175.68,326.97 176.80,327.30 C177.92,327.63 178.98,328.15 180.10,328.60 C181.22,329.05 182.37,329.67 183.50,330.00 C184.63,330.33 185.78,330.50 186.90,330.60 C188.02,330.70 189.08,330.65 190.20,330.60 C191.32,330.55 192.47,330.40 193.60,330.30 C194.73,330.20 195.88,330.13 197.00,330.00 C198.12,329.87 199.18,329.73 200.30,329.50 C201.42,329.27 202.58,328.97 203.70,328.60 C204.82,328.23 205.88,327.72 207.00,327.30 C208.12,326.88 209.27,326.38 210.40,326.10 C211.53,325.82 212.82,325.52 213.80,325.60 C214.78,325.68 215.47,326.15 216.30,326.60 C217.13,327.05 217.82,327.73 218.80,328.30 C219.78,328.87 221.22,329.80 222.20,330.00 C223.18,330.20 223.87,329.87 224.70,329.50 C225.53,329.13 226.37,328.65 227.20,327.80 C228.03,326.95 228.85,325.52 229.70,324.40 C230.55,323.28 231.32,322.22 232.30,321.10 C233.28,319.98 234.48,318.55 235.60,317.70 C236.72,316.85 237.87,316.20 239.00,316.00 C240.13,315.80 241.28,316.30 242.40,316.50 C243.52,316.70 244.58,316.92 245.70,317.20 C246.82,317.48 247.78,317.73 249.10,318.20 C250.42,318.67 252.85,319.70 253.60,320.00 L254.60,320.00 L254.60,334.70 Z" fill="#be8f8f"/>
<path d="M75.70,326.40 C75.75,326.43 75.58,326.45 76.00,326.60 C76.42,326.75 77.42,327.10 78.20,327.30 C78.98,327.50 79.87,328.13 80.70,327.80 C81.53,327.47 82.35,326.33 83.20,325.30 C84.05,324.27 84.95,322.73 85.80,321.60 C86.65,320.47 87.47,319.23 88.30,318.50 C89.13,317.77 89.97,317.25 90.80,317.20 C91.63,317.15 92.45,317.55 93.30,318.20 C94.15,318.85 95.05,320.07 95.90,321.10 C96.75,322.13 97.57,323.43 98.40,324.40 C99.23,325.37 100.07,326.25 100.90,326.90 C101.73,327.55 102.55,328.43 103.40,328.30 C104.25,328.17 105.15,327.30 106.00,326.10 C106.85,324.90 107.67,323.20 108.50,321.10 C109.33,319.00 110.17,315.88 111.00,313.50 C111.83,311.12 112.67,308.27 113.50,306.80 C114.33,305.33 115.23,304.70 116.00,304.70 C116.77,304.70 117.40,305.48 118.10,306.80 C118.80,308.12 119.42,310.78 120.20,312.60 C120.98,314.42 121.95,316.85 122.80,317.70 C123.65,318.55 124.47,318.40 125.30,317.70 C126.13,317.00 126.97,314.90 127.80,313.50 C128.63,312.10 129.45,310.08 130.30,309.30 C131.15,308.52 132.05,308.25 132.90,308.80 C133.75,309.35 134.57,310.83 135.40,312.60 C136.23,314.37 137.07,317.43 137.90,319.40 C138.73,321.37 139.57,323.15 140.40,324.40 C141.23,325.65 142.05,326.25 142.90,326.90 C143.75,327.55 144.52,328.02 145.50,328.30 C146.48,328.58 147.68,328.40 148.80,328.60 C149.92,328.80 151.07,329.22 152.20,329.50 C153.33,329.78 154.62,330.17 155.60,330.30 C156.58,330.43 157.27,330.58 158.10,330.30 C158.93,330.02 159.77,329.43 160.60,328.60 C161.43,327.77 162.27,326.37 163.10,325.30 C163.93,324.23 164.67,322.98 165.60,322.20 C166.53,321.42 167.82,320.65 168.70,320.60 C169.58,320.55 170.12,321.27 170.90,321.90 C171.68,322.53 172.42,323.57 173.40,324.40 C174.38,325.23 175.68,326.25 176.80,326.90 C177.92,327.55 178.98,327.78 180.10,328.30 C181.22,328.82 182.37,329.62 183.50,330.00 C184.63,330.38 185.78,330.55 186.90,330.60 C188.02,330.65 189.23,330.92 190.20,330.30 C191.17,329.68 191.85,328.30 192.70,326.90 C193.55,325.50 194.45,323.57 195.30,321.90 C196.15,320.23 196.97,318.17 197.80,316.90 C198.63,315.63 199.55,314.82 200.30,314.30 C201.05,313.78 201.60,313.52 202.30,313.80 C203.00,314.08 203.72,315.15 204.50,316.00 C205.28,316.85 206.15,318.25 207.00,318.90 C207.85,319.55 208.75,320.02 209.60,319.90 C210.45,319.78 211.27,318.98 212.10,318.20 C212.93,317.42 213.77,315.98 214.60,315.20 C215.43,314.42 216.27,313.83 217.10,313.50 C217.93,313.17 218.75,313.07 219.60,313.20 C220.45,313.33 221.35,313.68 222.20,314.30 C223.05,314.92 223.87,315.97 224.70,316.90 C225.53,317.83 226.37,318.93 227.20,319.90 C228.03,320.87 228.85,321.95 229.70,322.70 C230.55,323.45 231.45,324.12 232.30,324.40 C233.15,324.68 233.97,324.53 234.80,324.40 C235.63,324.27 236.32,324.02 237.30,323.60 C238.28,323.18 239.58,322.32 240.70,321.90 C241.82,321.48 242.88,321.23 244.00,321.10 C245.12,320.97 246.42,321.02 247.40,321.10 C248.38,321.18 248.87,321.33 249.90,321.60 C250.93,321.87 252.98,322.52 253.60,322.70" fill="none" stroke="#6b4400" stroke-width="1.9" stroke-linejoin="round" stroke-linecap="round"/>
</g>
<g clip-path="url(#c1b2)">
<path d="M288.60,334.70 L289.60,258.00 C289.75,258.67 290.07,259.20 290.50,262.00 C290.93,264.80 291.63,270.42 292.20,274.80 C292.77,279.18 293.33,284.10 293.90,288.30 C294.47,292.50 295.05,296.65 295.60,300.00 C296.15,303.35 296.50,305.73 297.20,308.40 C297.90,311.07 298.95,314.17 299.80,316.00 C300.65,317.83 301.47,318.47 302.30,319.40 C303.13,320.33 303.97,320.85 304.80,321.60 C305.63,322.35 306.45,323.15 307.30,323.90 C308.15,324.65 309.05,325.37 309.90,326.10 C310.75,326.83 311.57,327.65 312.40,328.30 C313.23,328.95 314.07,329.80 314.90,330.00 C315.73,330.20 316.55,330.15 317.40,329.50 C318.25,328.85 319.15,327.42 320.00,326.10 C320.85,324.78 321.67,322.87 322.50,321.60 C323.33,320.33 324.17,319.07 325.00,318.50 C325.83,317.93 326.67,317.92 327.50,318.20 C328.33,318.48 329.15,319.25 330.00,320.20 C330.85,321.15 331.75,322.78 332.60,323.90 C333.45,325.02 334.13,326.05 335.10,326.90 C336.07,327.75 337.28,328.43 338.40,329.00 C339.52,329.57 340.82,330.03 341.80,330.30 C342.78,330.57 343.45,330.73 344.30,330.60 C345.15,330.47 346.05,330.12 346.90,329.50 C347.75,328.88 348.57,327.75 349.40,326.90 C350.23,326.05 351.07,325.23 351.90,324.40 C352.73,323.57 353.57,322.82 354.40,321.90 C355.23,320.98 356.05,319.68 356.90,318.90 C357.75,318.12 358.65,317.40 359.50,317.20 C360.35,317.00 361.17,317.20 362.00,317.70 C362.83,318.20 363.67,319.22 364.50,320.20 C365.33,321.18 366.15,322.62 367.00,323.60 C367.85,324.58 368.75,325.32 369.60,326.10 C370.45,326.88 371.13,327.73 372.10,328.30 C373.07,328.87 374.28,329.22 375.40,329.50 C376.52,329.78 377.80,329.92 378.80,330.00 C379.80,330.08 380.42,330.45 381.40,330.00 C382.38,329.55 383.58,328.32 384.70,327.30 C385.82,326.28 386.97,324.93 388.10,323.90 C389.23,322.87 390.38,321.85 391.50,321.10 C392.62,320.35 393.83,319.60 394.80,319.40 C395.77,319.20 396.45,319.53 397.30,319.90 C398.15,320.27 398.92,320.98 399.90,321.60 C400.88,322.22 402.08,322.98 403.20,323.60 C404.32,324.22 405.62,325.02 406.60,325.30 C407.58,325.58 408.27,325.73 409.10,325.30 C409.93,324.87 410.90,323.83 411.60,322.70 C412.30,321.57 412.73,320.32 413.30,318.50 C413.87,316.68 414.43,314.60 415.00,311.80 C415.57,309.00 416.13,305.07 416.70,301.70 C417.27,298.33 417.78,294.53 418.40,291.60 C419.02,288.67 419.70,285.92 420.40,284.10 C421.10,282.28 421.82,281.40 422.60,280.70 C423.38,280.00 424.27,279.62 425.10,279.90 C425.93,280.18 426.77,280.87 427.60,282.40 C428.43,283.93 429.27,286.43 430.10,289.10 C430.93,291.77 431.75,295.18 432.60,298.40 C433.45,301.62 434.35,305.47 435.20,308.40 C436.05,311.33 436.87,314.03 437.70,316.00 C438.53,317.97 439.37,319.22 440.20,320.20 C441.03,321.18 441.85,321.57 442.70,321.90 C443.55,322.23 444.32,322.25 445.30,322.20 C446.28,322.15 447.48,321.98 448.60,321.60 C449.72,321.22 450.87,320.47 452.00,319.90 C453.13,319.33 454.28,318.57 455.40,318.20 C456.52,317.83 457.58,317.65 458.70,317.70 C459.82,317.75 461.12,318.08 462.10,318.50 C463.08,318.92 463.67,319.65 464.60,320.20 C465.53,320.75 467.18,321.53 467.70,321.80 L468.70,321.80 L468.70,334.70 Z" fill="#be8f8f"/>
<path d="M289.60,277.00 C289.62,277.20 289.47,276.60 289.70,278.20 C289.93,279.80 290.50,283.80 291.00,286.60 C291.50,289.40 292.08,292.90 292.70,295.00 C293.32,297.10 294.03,298.63 294.70,299.20 C295.37,299.77 296.00,298.68 296.70,298.40 C297.40,298.12 298.17,296.95 298.90,297.50 C299.63,298.05 300.40,299.73 301.10,301.70 C301.80,303.67 302.33,306.77 303.10,309.30 C303.87,311.83 304.85,314.93 305.70,316.90 C306.55,318.87 307.37,320.68 308.20,321.10 C309.03,321.52 309.87,320.10 310.70,319.40 C311.53,318.70 312.37,317.38 313.20,316.90 C314.03,316.42 314.85,316.37 315.70,316.50 C316.55,316.63 317.45,317.42 318.30,317.70 C319.15,317.98 319.97,318.12 320.80,318.20 C321.63,318.28 322.47,317.87 323.30,318.20 C324.13,318.53 324.95,319.30 325.80,320.20 C326.65,321.10 327.55,322.48 328.40,323.60 C329.25,324.72 330.07,326.07 330.90,326.90 C331.73,327.73 332.57,328.60 333.40,328.60 C334.23,328.60 335.07,328.15 335.90,326.90 C336.73,325.65 337.55,323.33 338.40,321.10 C339.25,318.87 340.15,315.88 341.00,313.50 C341.85,311.12 342.67,308.62 343.50,306.80 C344.33,304.98 345.17,303.45 346.00,302.60 C346.83,301.75 347.65,301.78 348.50,301.70 C349.35,301.62 350.25,302.10 351.10,302.10 C351.95,302.10 352.77,302.05 353.60,301.70 C354.43,301.35 355.27,300.13 356.10,300.00 C356.93,299.87 357.85,300.05 358.60,300.90 C359.35,301.75 359.90,303.28 360.60,305.10 C361.30,306.92 362.00,309.57 362.80,311.80 C363.60,314.03 364.55,316.48 365.40,318.50 C366.25,320.52 367.07,322.50 367.90,323.90 C368.73,325.30 369.57,326.25 370.40,326.90 C371.23,327.55 372.07,327.85 372.90,327.80 C373.73,327.75 374.55,327.23 375.40,326.60 C376.25,325.97 377.15,325.35 378.00,324.00 C378.85,322.65 379.67,320.82 380.50,318.50 C381.33,316.18 382.15,312.62 383.00,310.10 C383.85,307.58 384.75,305.08 385.60,303.40 C386.45,301.72 387.27,300.62 388.10,300.00 C388.93,299.38 389.77,299.35 390.60,299.70 C391.43,300.05 392.12,301.43 393.10,302.10 C394.08,302.77 395.52,303.90 396.50,303.70 C397.48,303.50 398.17,302.22 399.00,300.90 C399.83,299.58 400.65,297.40 401.50,295.80 C402.35,294.20 403.25,292.33 404.10,291.30 C404.95,290.27 405.77,289.55 406.60,289.60 C407.43,289.65 408.27,290.13 409.10,291.60 C409.93,293.07 410.75,295.73 411.60,298.40 C412.45,301.07 413.35,304.67 414.20,307.60 C415.05,310.53 415.87,313.90 416.70,316.00 C417.53,318.10 418.37,319.43 419.20,320.20 C420.03,320.97 420.72,320.88 421.70,320.60 C422.68,320.32 423.98,319.27 425.10,318.50 C426.22,317.73 427.28,316.62 428.40,316.00 C429.52,315.38 430.67,315.37 431.80,314.80 C432.93,314.23 434.08,313.23 435.20,312.60 C436.32,311.97 437.38,311.27 438.50,311.00 C439.62,310.73 440.77,310.87 441.90,311.00 C443.03,311.13 444.18,311.53 445.30,311.80 C446.42,312.07 447.48,312.37 448.60,312.60 C449.72,312.83 450.87,313.05 452.00,313.20 C453.13,313.35 454.28,313.60 455.40,313.50 C456.52,313.40 457.58,312.93 458.70,312.60 C459.82,312.27 461.12,311.77 462.10,311.50 C463.08,311.23 463.67,310.95 464.60,311.00 C465.53,311.05 467.18,311.67 467.70,311.80" fill="none" stroke="#6b4400" stroke-width="1.9" stroke-linejoin="round" stroke-linecap="round"/>
</g>
<g clip-path="url(#c2b2)">
<path d="M502.30,334.70 L503.30,262.00 C503.48,263.58 503.95,268.95 504.40,271.50 C504.85,274.05 505.45,275.77 506.00,277.30 C506.55,278.83 507.13,280.70 507.70,280.70 C508.27,280.70 508.83,279.12 509.40,277.30 C509.97,275.48 510.60,271.90 511.10,269.80 C511.60,267.70 512.08,266.33 512.40,264.70 C512.72,263.07 511.23,260.78 513.00,260.00 C514.77,259.22 521.08,257.82 523.00,260.00 C524.92,262.18 523.97,268.67 524.50,273.10 C525.03,277.53 525.63,282.38 526.20,286.60 C526.77,290.82 527.20,294.90 527.90,298.40 C528.60,301.90 529.42,305.08 530.40,307.60 C531.38,310.12 532.67,312.23 533.80,313.50 C534.93,314.77 536.08,315.48 537.20,315.20 C538.32,314.92 539.38,313.07 540.50,311.80 C541.62,310.53 542.78,308.72 543.90,307.60 C545.02,306.48 546.22,305.23 547.20,305.10 C548.18,304.97 548.95,305.68 549.80,306.80 C550.65,307.92 551.47,309.98 552.30,311.80 C553.13,313.62 553.82,315.60 554.80,317.70 C555.78,319.80 557.08,322.58 558.20,324.40 C559.32,326.22 560.52,327.75 561.50,328.60 C562.48,329.45 563.12,329.63 564.10,329.50 C565.08,329.37 566.28,328.65 567.40,327.80 C568.52,326.95 569.68,325.67 570.80,324.40 C571.92,323.13 572.98,321.60 574.10,320.20 C575.22,318.80 576.52,316.98 577.50,316.00 C578.48,315.02 579.15,314.30 580.00,314.30 C580.85,314.30 581.75,315.15 582.60,316.00 C583.45,316.85 584.13,318.13 585.10,319.40 C586.07,320.67 587.28,322.53 588.40,323.60 C589.52,324.67 590.70,325.30 591.80,325.80 C592.90,326.30 594.03,326.47 595.00,326.60 C595.97,326.73 596.75,326.88 597.60,326.60 C598.45,326.32 599.27,325.97 600.10,324.90 C600.93,323.83 601.82,322.38 602.60,320.20 C603.38,318.02 604.15,315.17 604.80,311.80 C605.45,308.43 605.93,304.20 606.50,300.00 C607.07,295.80 607.65,290.80 608.20,286.60 C608.75,282.40 609.25,278.17 609.80,274.80 C610.35,271.43 611.07,268.08 611.50,266.40 C611.93,264.72 612.18,265.77 612.40,264.70 C612.62,263.63 611.48,260.78 612.80,260.00 C614.12,259.22 619.00,259.22 620.30,260.00 C621.60,260.78 620.33,262.52 620.60,264.70 C620.87,266.88 621.40,270.30 621.90,273.10 C622.40,275.90 622.88,278.42 623.60,281.50 C624.32,284.58 625.35,288.52 626.20,291.60 C627.05,294.68 627.87,297.47 628.70,300.00 C629.53,302.53 630.37,304.70 631.20,306.80 C632.03,308.90 632.87,311.15 633.70,312.60 C634.53,314.05 635.22,314.93 636.20,315.50 C637.18,316.07 638.47,315.83 639.60,316.00 C640.73,316.17 641.88,316.30 643.00,316.50 C644.12,316.70 645.32,317.28 646.30,317.20 C647.28,317.12 648.05,316.77 648.90,316.00 C649.75,315.23 650.57,313.72 651.40,312.60 C652.23,311.48 652.92,310.27 653.90,309.30 C654.88,308.33 656.18,307.50 657.30,306.80 C658.42,306.10 659.48,305.67 660.60,305.10 C661.72,304.53 662.87,304.02 664.00,303.40 C665.13,302.78 666.28,301.82 667.40,301.40 C668.52,300.98 669.58,300.98 670.70,300.90 C671.82,300.82 672.98,301.05 674.10,300.90 C675.22,300.75 676.28,300.65 677.40,300.00 C678.52,299.35 680.23,297.50 680.80,297.00 L681.80,297.00 L681.80,334.70 Z" fill="#be8f8f"/>
<path d="M513.80,260.00 C513.92,260.78 514.17,262.78 514.50,264.70 C514.83,266.62 515.33,269.82 515.80,271.50 C516.27,273.18 516.73,274.53 517.30,274.80 C517.87,275.07 518.62,274.22 519.20,273.10 C519.78,271.98 520.35,269.50 520.80,268.10 C521.25,266.70 521.62,266.05 521.90,264.70 C522.18,263.35 521.82,260.78 522.50,260.00 C523.18,259.22 525.32,259.22 526.00,260.00 C526.68,260.78 526.28,262.23 526.60,264.70 C526.92,267.17 527.40,270.87 527.90,274.80 C528.40,278.73 529.03,283.82 529.60,288.30 C530.17,292.78 530.68,297.50 531.30,301.70 C531.92,305.90 532.60,310.47 533.30,313.50 C534.00,316.53 534.77,319.07 535.50,319.90 C536.23,320.73 536.95,319.57 537.70,318.50 C538.45,317.43 539.17,314.95 540.00,313.50 C540.83,312.05 541.85,310.13 542.70,309.80 C543.55,309.47 544.27,310.47 545.10,311.50 C545.93,312.53 546.78,314.77 547.70,316.00 C548.62,317.23 549.55,318.25 550.60,318.90 C551.65,319.55 552.88,319.53 554.00,319.90 C555.12,320.27 556.18,320.72 557.30,321.10 C558.42,321.48 559.72,322.07 560.70,322.20 C561.68,322.33 562.37,322.52 563.20,321.90 C564.03,321.28 564.85,320.05 565.70,318.50 C566.55,316.95 567.45,314.83 568.30,312.60 C569.15,310.37 569.97,307.75 570.80,305.10 C571.63,302.45 572.47,299.37 573.30,296.70 C574.13,294.03 574.95,291.40 575.80,289.10 C576.65,286.80 577.63,284.30 578.40,282.90 C579.17,281.50 579.70,280.78 580.40,280.70 C581.10,280.62 581.82,281.00 582.60,282.40 C583.38,283.80 584.27,286.30 585.10,289.10 C585.93,291.90 586.77,296.40 587.60,299.20 C588.43,302.00 589.37,304.58 590.10,305.90 C590.83,307.22 591.32,307.52 592.00,307.10 C592.68,306.68 593.47,305.42 594.20,303.40 C594.93,301.38 595.70,298.08 596.40,295.00 C597.10,291.92 597.73,288.27 598.40,284.90 C599.07,281.53 599.78,277.88 600.40,274.80 C601.02,271.72 601.70,268.53 602.10,266.40 C602.50,264.27 601.85,262.73 602.80,262.00 C603.75,261.27 606.90,261.55 607.80,262.00 C608.70,262.45 607.95,263.12 608.20,264.70 C608.45,266.28 608.83,268.42 609.30,271.50 C609.77,274.58 610.43,279.28 611.00,283.20 C611.57,287.12 612.00,291.35 612.70,295.00 C613.40,298.65 614.37,302.87 615.20,305.10 C616.03,307.33 616.72,307.78 617.70,308.40 C618.68,309.02 619.97,308.73 621.10,308.80 C622.23,308.87 623.52,308.58 624.50,308.80 C625.48,309.02 626.17,309.47 627.00,310.10 C627.83,310.73 628.52,311.62 629.50,312.60 C630.48,313.58 631.92,315.28 632.90,316.00 C633.88,316.72 634.57,317.18 635.40,316.90 C636.23,316.62 637.07,315.85 637.90,314.30 C638.73,312.75 639.55,309.98 640.40,307.60 C641.25,305.22 642.15,302.15 643.00,300.00 C643.85,297.85 644.67,295.87 645.50,294.70 C646.33,293.53 647.17,293.08 648.00,293.00 C648.83,292.92 649.65,293.30 650.50,294.20 C651.35,295.10 652.25,296.92 653.10,298.40 C653.95,299.88 654.77,301.70 655.60,303.10 C656.43,304.50 657.27,305.92 658.10,306.80 C658.93,307.68 659.77,308.13 660.60,308.40 C661.43,308.67 662.25,308.67 663.10,308.40 C663.95,308.13 664.85,307.50 665.70,306.80 C666.55,306.10 667.37,305.05 668.20,304.20 C669.03,303.35 669.87,302.40 670.70,301.70 C671.53,301.00 672.35,300.42 673.20,300.00 C674.05,299.58 674.95,299.13 675.80,299.20 C676.65,299.27 677.47,299.83 678.30,300.40 C679.13,300.97 680.38,302.23 680.80,302.60" fill="none" stroke="#6b4400" stroke-width="1.9" stroke-linejoin="round" stroke-linecap="round"/>
</g>
<g clip-path="url(#c0b3)">
<path d="M74.70,432.30 L75.70,407.00 C75.75,407.02 75.72,406.23 76.00,407.10 C76.28,407.97 76.90,410.23 77.40,412.20 C77.90,414.17 78.45,416.93 79.00,418.90 C79.55,420.87 80.13,422.60 80.70,424.00 C81.27,425.40 81.83,426.53 82.40,427.30 C82.97,428.07 83.25,428.32 84.10,428.60 C84.95,428.88 86.38,429.22 87.50,429.00 C88.62,428.78 89.68,427.87 90.80,427.30 C91.92,426.73 93.08,426.17 94.20,425.60 C95.32,425.03 96.38,424.40 97.50,423.90 C98.62,423.40 99.77,422.93 100.90,422.60 C102.03,422.27 103.18,422.52 104.30,421.90 C105.42,421.28 106.62,419.97 107.60,418.90 C108.58,417.83 109.35,416.40 110.20,415.50 C111.05,414.60 111.87,413.72 112.70,413.50 C113.53,413.28 114.37,413.72 115.20,414.20 C116.03,414.68 116.87,415.48 117.70,416.40 C118.53,417.32 119.35,418.72 120.20,419.70 C121.05,420.68 121.95,421.65 122.80,422.30 C123.65,422.95 124.47,423.33 125.30,423.60 C126.13,423.87 126.97,423.85 127.80,423.90 C128.63,423.95 129.45,424.17 130.30,423.90 C131.15,423.63 132.20,423.42 132.90,422.30 C133.60,421.18 133.88,419.45 134.50,417.20 C135.12,414.95 135.90,411.18 136.60,408.80 C137.30,406.42 137.98,404.52 138.70,402.90 C139.42,401.28 140.25,399.93 140.90,399.10 C141.55,398.27 142.03,397.82 142.60,397.90 C143.17,397.98 143.73,398.62 144.30,399.60 C144.87,400.58 145.38,402.27 146.00,403.80 C146.62,405.33 147.25,407.27 148.00,408.80 C148.75,410.33 149.67,411.73 150.50,413.00 C151.33,414.27 152.15,415.28 153.00,416.40 C153.85,417.52 154.75,418.72 155.60,419.70 C156.45,420.68 157.27,421.73 158.10,422.30 C158.93,422.87 159.77,423.10 160.60,423.10 C161.43,423.10 162.37,422.72 163.10,422.30 C163.83,421.88 164.27,422.15 165.00,420.60 C165.73,419.05 166.67,415.10 167.50,413.00 C168.33,410.90 169.02,409.32 170.00,408.00 C170.98,406.68 172.27,405.80 173.40,405.10 C174.53,404.40 175.68,403.88 176.80,403.80 C177.92,403.72 178.98,404.05 180.10,404.60 C181.22,405.15 182.37,406.12 183.50,407.10 C184.63,408.08 185.78,409.37 186.90,410.50 C188.02,411.63 189.08,413.48 190.20,413.90 C191.32,414.32 192.47,413.43 193.60,413.00 C194.73,412.57 195.88,411.85 197.00,411.30 C198.12,410.75 199.18,410.25 200.30,409.70 C201.42,409.15 202.58,408.48 203.70,408.00 C204.82,407.52 205.88,407.17 207.00,406.80 C208.12,406.43 209.27,406.03 210.40,405.80 C211.53,405.57 212.82,405.18 213.80,405.40 C214.78,405.62 215.52,406.38 216.30,407.10 C217.08,407.82 217.80,409.13 218.50,409.70 C219.20,410.27 219.88,410.65 220.50,410.50 C221.12,410.35 221.63,410.20 222.20,408.80 C222.77,407.40 223.35,404.90 223.90,402.10 C224.45,399.30 225.07,394.85 225.50,392.00 C225.93,389.15 226.15,387.33 226.50,385.00 C226.85,382.67 227.15,380.48 227.60,378.00 C228.05,375.52 228.65,372.82 229.20,370.10 C229.75,367.38 230.52,364.05 230.90,361.70 C231.28,359.35 231.40,356.95 231.50,356.00 L254.60,356.00 L254.60,432.30 Z" fill="#04a218"/>
<path d="M75.70,429.80 C76.53,429.67 79.02,429.28 80.70,429.00 C82.38,428.72 84.40,428.33 85.80,428.10 C87.20,427.87 87.98,427.60 89.10,427.60 C90.22,427.60 90.82,427.82 92.50,428.10 C94.18,428.38 96.68,429.22 99.20,429.30 C101.72,429.38 104.80,428.88 107.60,428.60 C110.40,428.32 113.47,427.68 116.00,427.60 C118.53,427.52 120.83,428.20 122.80,428.10 C124.77,428.00 126.12,427.08 127.80,427.00 C129.48,426.92 130.65,427.55 132.90,427.60 C135.15,427.65 138.50,427.40 141.30,427.30 C144.10,427.20 146.90,427.00 149.70,427.00 C152.50,427.00 155.55,427.38 158.10,427.30 C160.65,427.22 163.02,426.50 165.00,426.50 C166.98,426.50 168.32,427.03 170.00,427.30 C171.68,427.57 173.13,427.82 175.10,428.10 C177.07,428.38 179.57,428.80 181.80,429.00 C184.03,429.20 186.25,429.30 188.50,429.30 C190.75,429.30 193.33,429.28 195.30,429.00 C197.27,428.72 198.62,428.02 200.30,427.60 C201.98,427.18 204.00,427.12 205.40,426.50 C206.80,425.88 207.73,425.03 208.70,423.90 C209.67,422.77 210.35,421.65 211.20,419.70 C212.05,417.75 213.10,414.85 213.80,412.20 C214.50,409.55 214.85,406.88 215.40,403.80 C215.95,400.72 216.53,397.07 217.10,393.70 C217.67,390.33 218.18,386.68 218.80,383.60 C219.42,380.52 220.03,377.18 220.80,375.20 C221.57,373.22 222.67,372.03 223.40,371.70 C224.13,371.37 224.53,372.32 225.20,373.20 C225.87,374.08 226.57,376.10 227.40,377.00 C228.23,377.90 229.18,378.23 230.20,378.60 C231.22,378.97 232.60,379.22 233.50,379.20 C234.40,379.18 235.00,378.95 235.60,378.50 C236.20,378.05 236.68,377.33 237.10,376.50 C237.52,375.67 237.67,374.97 238.10,373.50 C238.53,372.03 239.22,369.62 239.70,367.70 C240.18,365.78 240.70,363.78 241.00,362.00 C241.30,360.22 239.92,357.83 241.50,357.00 C243.08,356.17 248.88,356.17 250.50,357.00 C252.12,357.83 250.88,360.37 251.20,362.00 C251.52,363.63 251.97,365.70 252.40,366.80 C252.83,367.90 253.57,368.30 253.80,368.60" fill="none" stroke="#c8aa00" stroke-width="1.9" stroke-linejoin="round" stroke-linecap="round"/>
<path d="M75.70,429.00 C76.53,429.05 79.45,429.63 80.70,429.30 C81.95,428.97 82.35,427.95 83.20,427.00 C84.05,426.05 84.95,424.67 85.80,423.60 C86.65,422.53 87.47,421.33 88.30,420.60 C89.13,419.87 89.97,419.20 90.80,419.20 C91.63,419.20 92.45,419.95 93.30,420.60 C94.15,421.25 95.05,422.48 95.90,423.10 C96.75,423.72 97.15,424.17 98.40,424.30 C99.65,424.43 101.72,424.02 103.40,423.90 C105.08,423.78 107.23,423.87 108.50,423.60 C109.77,423.33 110.02,422.95 111.00,422.30 C111.98,421.65 113.28,420.32 114.40,419.70 C115.52,419.08 116.58,418.95 117.70,418.60 C118.82,418.25 120.12,418.25 121.10,417.60 C122.08,416.95 122.77,415.75 123.60,414.70 C124.43,413.65 125.27,412.33 126.10,411.30 C126.93,410.27 127.75,409.13 128.60,408.50 C129.45,407.87 130.35,407.45 131.20,407.50 C132.05,407.55 132.87,407.88 133.70,408.80 C134.53,409.72 135.37,411.82 136.20,413.00 C137.03,414.18 137.85,415.13 138.70,415.90 C139.55,416.67 140.32,417.23 141.30,417.60 C142.28,417.97 143.48,417.93 144.60,418.10 C145.72,418.27 146.87,418.47 148.00,418.60 C149.13,418.73 150.28,418.72 151.40,418.90 C152.52,419.08 153.73,419.42 154.70,419.70 C155.67,419.98 156.35,420.87 157.20,420.60 C158.05,420.33 158.95,419.22 159.80,418.10 C160.65,416.98 161.47,415.22 162.30,413.90 C163.13,412.58 164.10,410.98 164.80,410.20 C165.50,409.42 165.90,409.43 166.50,409.20 C167.10,408.97 167.53,408.58 168.40,408.80 C169.27,409.02 170.58,409.93 171.70,410.50 C172.82,411.07 173.97,411.70 175.10,412.20 C176.23,412.70 177.38,412.88 178.50,413.50 C179.62,414.12 180.68,414.87 181.80,415.90 C182.92,416.93 184.08,418.58 185.20,419.70 C186.32,420.82 187.43,421.95 188.50,422.60 C189.57,423.25 190.62,423.72 191.60,423.60 C192.58,423.48 193.50,422.82 194.40,421.90 C195.30,420.98 196.02,419.38 197.00,418.10 C197.98,416.82 199.18,415.05 200.30,414.20 C201.42,413.35 202.58,413.28 203.70,413.00 C204.82,412.72 206.02,413.05 207.00,412.50 C207.98,411.95 208.75,410.88 209.60,409.70 C210.45,408.52 211.27,407.00 212.10,405.40 C212.93,403.80 213.77,401.63 214.60,400.10 C215.43,398.57 216.15,397.27 217.10,396.20 C218.05,395.13 219.18,393.73 220.30,393.70 C221.42,393.67 222.77,395.32 223.80,396.00 C224.83,396.68 225.62,397.37 226.50,397.80 C227.38,398.23 228.13,398.58 229.10,398.60 C230.07,398.62 231.42,398.48 232.30,397.90 C233.18,397.32 233.57,396.65 234.40,395.10 C235.23,393.55 236.42,390.37 237.30,388.60 C238.18,386.83 238.85,386.18 239.70,384.50 C240.55,382.82 241.58,379.75 242.40,378.50 C243.22,377.25 243.87,377.10 244.60,377.00 C245.33,376.90 245.85,376.95 246.80,377.90 C247.75,378.85 249.13,380.93 250.30,382.70 C251.47,384.47 253.22,387.53 253.80,388.50" fill="none" stroke="#ff0000" stroke-width="1.9" stroke-linejoin="round" stroke-linecap="round"/>
<path d="M75.70,428.00 C75.75,428.02 75.58,427.93 76.00,428.10 C76.42,428.27 77.42,428.92 78.20,429.00 C78.98,429.08 79.87,429.17 80.70,428.60 C81.53,428.03 82.35,426.80 83.20,425.60 C84.05,424.40 84.95,422.65 85.80,421.40 C86.65,420.15 87.47,418.85 88.30,418.10 C89.13,417.35 89.97,416.82 90.80,416.90 C91.63,416.98 92.45,417.85 93.30,418.60 C94.15,419.35 95.05,420.65 95.90,421.40 C96.75,422.15 97.57,422.82 98.40,423.10 C99.23,423.38 100.07,423.18 100.90,423.10 C101.73,423.02 102.55,422.68 103.40,422.60 C104.25,422.52 105.15,422.65 106.00,422.60 C106.85,422.55 107.67,422.58 108.50,422.30 C109.33,422.02 110.17,421.47 111.00,420.90 C111.83,420.33 112.67,419.52 113.50,418.90 C114.33,418.28 115.15,417.53 116.00,417.20 C116.85,416.87 117.75,417.12 118.60,416.90 C119.45,416.68 120.27,416.68 121.10,415.90 C121.93,415.12 122.77,413.52 123.60,412.20 C124.43,410.88 125.27,409.18 126.10,408.00 C126.93,406.82 127.75,405.80 128.60,405.10 C129.45,404.40 130.35,403.80 131.20,403.80 C132.05,403.80 132.87,404.32 133.70,405.10 C134.53,405.88 135.37,407.47 136.20,408.50 C137.03,409.53 137.85,410.47 138.70,411.30 C139.55,412.13 140.45,412.93 141.30,413.50 C142.15,414.07 142.97,414.37 143.80,414.70 C144.63,415.03 145.47,415.30 146.30,415.50 C147.13,415.70 147.95,415.75 148.80,415.90 C149.65,416.05 150.55,416.18 151.40,416.40 C152.25,416.62 153.07,416.83 153.90,417.20 C154.73,417.57 155.57,418.65 156.40,418.60 C157.23,418.55 158.07,417.83 158.90,416.90 C159.73,415.97 160.55,414.40 161.40,413.00 C162.25,411.60 163.15,409.77 164.00,408.50 C164.85,407.23 165.77,406.05 166.50,405.40 C167.23,404.75 167.53,404.45 168.40,404.60 C169.27,404.75 170.58,405.65 171.70,406.30 C172.82,406.95 173.97,407.93 175.10,408.50 C176.23,409.07 177.38,408.95 178.50,409.70 C179.62,410.45 180.68,411.60 181.80,413.00 C182.92,414.40 184.08,416.62 185.20,418.10 C186.32,419.58 187.43,421.07 188.50,421.90 C189.57,422.73 190.62,423.27 191.60,423.10 C192.58,422.93 193.50,422.02 194.40,420.90 C195.30,419.78 196.02,418.00 197.00,416.40 C197.98,414.80 199.18,412.62 200.30,411.30 C201.42,409.98 202.58,409.33 203.70,408.50 C204.82,407.67 206.02,407.08 207.00,406.30 C207.98,405.52 208.90,405.07 209.60,403.80 C210.30,402.53 210.65,400.95 211.20,398.70 C211.75,396.45 212.33,393.67 212.90,390.30 C213.47,386.93 214.03,382.13 214.60,378.50 C215.17,374.87 215.82,371.30 216.30,368.50 C216.78,365.70 217.13,363.78 217.50,361.70 C217.87,359.62 218.33,356.95 218.50,356.00" fill="none" stroke="#000000" stroke-width="1.9" stroke-linejoin="round" stroke-linecap="round"/>
</g>
<g clip-path="url(#c1b3)">
<path d="M288.60,432.30 L289.60,370.80 C289.62,370.83 289.40,370.55 289.70,371.00 C290.00,371.45 290.85,372.25 291.40,373.50 C291.95,374.75 292.45,376.25 293.00,378.50 C293.55,380.75 294.13,384.18 294.70,387.00 C295.27,389.82 295.83,392.88 296.40,395.40 C296.97,397.92 297.40,400.28 298.10,402.10 C298.80,403.92 299.77,405.23 300.60,406.30 C301.43,407.37 302.25,407.67 303.10,408.50 C303.95,409.33 304.85,410.27 305.70,411.30 C306.55,412.33 307.23,413.30 308.20,414.70 C309.17,416.10 310.38,418.30 311.50,419.70 C312.62,421.10 313.92,422.33 314.90,423.10 C315.88,423.87 316.55,424.43 317.40,424.30 C318.25,424.17 319.15,423.33 320.00,422.30 C320.85,421.27 321.67,419.23 322.50,418.10 C323.33,416.97 324.17,415.98 325.00,415.50 C325.83,415.02 326.67,414.97 327.50,415.20 C328.33,415.43 329.15,416.15 330.00,416.90 C330.85,417.65 331.62,418.80 332.60,419.70 C333.58,420.60 334.78,421.45 335.90,422.30 C337.02,423.15 338.18,424.10 339.30,424.80 C340.42,425.50 341.62,426.13 342.60,426.50 C343.58,426.87 344.35,427.28 345.20,427.00 C346.05,426.72 346.87,425.73 347.70,424.80 C348.53,423.87 349.22,422.67 350.20,421.40 C351.18,420.13 352.48,418.45 353.60,417.20 C354.72,415.95 355.78,414.88 356.90,413.90 C358.02,412.92 359.32,411.82 360.30,411.30 C361.28,410.78 361.95,410.60 362.80,410.80 C363.65,411.00 364.55,411.77 365.40,412.50 C366.25,413.23 367.07,414.35 367.90,415.20 C368.73,416.05 369.42,416.85 370.40,417.60 C371.38,418.35 372.68,419.20 373.80,419.70 C374.92,420.20 375.98,420.60 377.10,420.60 C378.22,420.60 379.52,420.12 380.50,419.70 C381.48,419.28 382.30,419.02 383.00,418.10 C383.70,417.18 383.85,415.47 384.70,414.20 C385.55,412.93 386.97,411.62 388.10,410.50 C389.23,409.38 390.38,408.35 391.50,407.50 C392.62,406.65 393.75,405.75 394.80,405.40 C395.85,405.05 396.82,405.12 397.80,405.40 C398.78,405.68 399.65,406.25 400.70,407.10 C401.75,407.95 402.98,409.52 404.10,410.50 C405.22,411.48 406.48,412.72 407.40,413.00 C408.32,413.28 408.90,413.18 409.60,412.20 C410.30,411.22 411.03,409.63 411.60,407.10 C412.17,404.57 412.57,400.63 413.00,397.00 C413.43,393.37 413.73,388.93 414.20,385.30 C414.67,381.67 415.25,378.00 415.80,375.20 C416.35,372.40 416.93,370.75 417.50,368.50 C418.07,366.25 418.82,363.78 419.20,361.70 C419.58,359.62 416.92,356.95 419.80,356.00 C422.68,355.05 433.65,355.05 436.50,356.00 C439.35,356.95 436.57,359.77 436.90,361.70 C437.23,363.63 437.80,365.77 438.50,367.60 C439.20,369.43 440.12,371.15 441.10,372.70 C442.08,374.25 443.28,375.50 444.40,376.90 C445.52,378.30 446.68,379.70 447.80,381.10 C448.92,382.50 449.98,384.05 451.10,385.30 C452.22,386.55 453.37,387.48 454.50,388.60 C455.63,389.72 456.78,390.60 457.90,392.00 C459.02,393.40 460.22,395.47 461.20,397.00 C462.18,398.53 462.72,399.45 463.80,401.20 C464.88,402.95 467.05,406.45 467.70,407.50 L468.70,407.50 L468.70,432.30 Z" fill="#04a218"/>
<path d="M289.60,429.30 C290.73,429.38 293.87,429.85 296.40,429.80 C298.93,429.75 302.00,429.20 304.80,429.00 C307.60,428.80 310.40,428.60 313.20,428.60 C316.00,428.60 318.80,428.88 321.60,429.00 C324.40,429.12 327.20,429.25 330.00,429.30 C332.80,429.35 335.58,429.42 338.40,429.30 C341.22,429.18 344.08,428.88 346.90,428.60 C349.72,428.32 352.78,427.82 355.30,427.60 C357.82,427.38 359.77,427.22 362.00,427.30 C364.23,427.38 366.47,427.82 368.70,428.10 C370.93,428.38 373.85,428.85 375.40,429.00 C376.95,429.15 377.00,429.15 378.00,429.00 C379.00,428.85 380.28,428.43 381.40,428.10 C382.52,427.77 383.58,427.42 384.70,427.00 C385.82,426.58 386.97,426.12 388.10,425.60 C389.23,425.08 390.38,424.73 391.50,423.90 C392.62,423.07 393.68,422.13 394.80,420.60 C395.92,419.07 397.08,416.72 398.20,414.70 C399.32,412.68 400.38,409.98 401.50,408.50 C402.62,407.02 403.83,405.97 404.90,405.80 C405.97,405.63 406.92,406.43 407.90,407.50 C408.88,408.57 409.75,410.58 410.80,412.20 C411.85,413.82 413.08,415.95 414.20,417.20 C415.32,418.45 416.47,419.42 417.50,419.70 C418.53,419.98 419.47,419.53 420.40,418.90 C421.33,418.27 422.18,416.80 423.10,415.90 C424.02,415.00 425.02,414.18 425.90,413.50 C426.78,412.82 427.47,412.58 428.40,411.80 C429.33,411.02 430.65,410.28 431.50,408.80 C432.35,407.32 432.83,405.57 433.50,402.90 C434.17,400.23 434.80,395.88 435.50,392.80 C436.20,389.72 436.97,386.63 437.70,384.40 C438.43,382.17 439.07,380.65 439.90,379.40 C440.73,378.15 441.80,377.60 442.70,376.90 C443.60,376.20 444.53,376.05 445.30,375.20 C446.07,374.35 446.68,373.20 447.30,371.80 C447.92,370.40 448.45,368.33 449.00,366.80 C449.55,365.27 450.18,364.23 450.60,362.60 C451.02,360.97 451.35,357.93 451.50,357.00" fill="none" stroke="#c8aa00" stroke-width="1.9" stroke-linejoin="round" stroke-linecap="round"/>
<path d="M289.60,414.60 C289.62,414.62 289.13,414.40 289.70,414.70 C290.27,415.00 291.88,416.03 293.00,416.40 C294.12,416.77 295.27,416.90 296.40,416.90 C297.53,416.90 298.68,416.12 299.80,416.40 C300.92,416.68 301.98,417.97 303.10,418.60 C304.22,419.23 305.37,420.02 306.50,420.20 C307.63,420.38 308.78,419.97 309.90,419.70 C311.02,419.43 312.08,418.87 313.20,418.60 C314.32,418.33 315.47,418.18 316.60,418.10 C317.73,418.02 318.88,418.18 320.00,418.10 C321.12,418.02 322.18,417.47 323.30,417.60 C324.42,417.73 325.58,418.35 326.70,418.90 C327.82,419.45 328.88,420.33 330.00,420.90 C331.12,421.47 332.27,422.22 333.40,422.30 C334.53,422.38 335.68,422.02 336.80,421.40 C337.92,420.78 338.98,419.72 340.10,418.60 C341.22,417.48 342.37,415.77 343.50,414.70 C344.63,413.63 345.78,412.95 346.90,412.20 C348.02,411.45 349.08,410.90 350.20,410.20 C351.32,409.50 352.48,408.73 353.60,408.00 C354.72,407.27 355.92,406.23 356.90,405.80 C357.88,405.37 358.65,405.12 359.50,405.40 C360.35,405.68 361.17,406.43 362.00,407.50 C362.83,408.57 363.67,410.52 364.50,411.80 C365.33,413.08 366.02,414.30 367.00,415.20 C367.98,416.10 369.27,416.80 370.40,417.20 C371.53,417.60 372.68,417.73 373.80,417.60 C374.92,417.47 376.05,417.17 377.10,416.40 C378.15,415.63 379.12,414.40 380.10,413.00 C381.08,411.60 382.08,409.82 383.00,408.00 C383.92,406.18 384.75,403.78 385.60,402.10 C386.45,400.42 387.12,398.97 388.10,397.90 C389.08,396.83 390.38,396.12 391.50,395.70 C392.62,395.28 393.68,395.52 394.80,395.40 C395.92,395.28 397.08,395.23 398.20,395.00 C399.32,394.77 400.38,394.28 401.50,394.00 C402.62,393.72 403.77,393.58 404.90,393.30 C406.03,393.02 407.32,392.38 408.30,392.30 C409.28,392.22 409.97,392.28 410.80,392.80 C411.63,393.32 412.47,394.47 413.30,395.40 C414.13,396.33 414.95,397.70 415.80,398.40 C416.65,399.10 417.55,399.68 418.40,399.60 C419.25,399.52 420.07,398.88 420.90,397.90 C421.73,396.92 422.57,395.10 423.40,393.70 C424.23,392.30 425.07,390.48 425.90,389.50 C426.73,388.52 427.47,388.28 428.40,387.80 C429.33,387.32 430.52,387.30 431.50,386.60 C432.48,385.90 433.40,384.43 434.30,383.60 C435.20,382.77 436.05,382.22 436.90,381.60 C437.75,380.98 438.57,380.27 439.40,379.90 C440.23,379.53 441.07,379.20 441.90,379.40 C442.73,379.60 443.57,380.47 444.40,381.10 C445.23,381.73 446.05,382.57 446.90,383.20 C447.75,383.83 448.65,384.62 449.50,384.90 C450.35,385.18 451.17,385.27 452.00,384.90 C452.83,384.53 453.67,384.03 454.50,382.70 C455.33,381.37 456.15,379.00 457.00,376.90 C457.85,374.80 458.75,372.07 459.60,370.10 C460.45,368.13 461.27,366.35 462.10,365.10 C462.93,363.85 463.67,362.88 464.60,362.60 C465.53,362.32 467.18,363.27 467.70,363.40" fill="none" stroke="#ff0000" stroke-width="1.9" stroke-linejoin="round" stroke-linecap="round"/>
<path d="M289.60,413.00 C289.62,413.00 289.27,412.63 289.70,413.00 C290.13,413.37 291.22,414.72 292.20,415.20 C293.18,415.68 294.48,415.90 295.60,415.90 C296.72,415.90 297.78,415.03 298.90,415.20 C300.02,415.37 301.17,416.28 302.30,416.90 C303.43,417.52 304.58,418.57 305.70,418.90 C306.82,419.23 307.88,419.18 309.00,418.90 C310.12,418.62 311.28,417.70 312.40,417.20 C313.52,416.70 314.58,416.12 315.70,415.90 C316.82,415.68 317.97,415.97 319.10,415.90 C320.23,415.83 321.38,415.22 322.50,415.50 C323.62,415.78 324.68,416.82 325.80,417.60 C326.92,418.38 328.07,419.48 329.20,420.20 C330.33,420.92 331.48,421.70 332.60,421.90 C333.72,422.10 334.78,422.03 335.90,421.40 C337.02,420.77 338.18,419.35 339.30,418.10 C340.42,416.85 341.48,415.22 342.60,413.90 C343.72,412.58 344.87,411.18 346.00,410.20 C347.13,409.22 348.28,408.80 349.40,408.00 C350.52,407.20 351.58,406.25 352.70,405.40 C353.82,404.55 355.12,403.40 356.10,402.90 C357.08,402.40 357.77,402.20 358.60,402.40 C359.43,402.60 360.25,403.08 361.10,404.10 C361.95,405.12 362.85,407.15 363.70,408.50 C364.55,409.85 365.37,411.17 366.20,412.20 C367.03,413.23 367.72,414.08 368.70,414.70 C369.68,415.32 370.98,415.70 372.10,415.90 C373.22,416.10 374.42,416.10 375.40,415.90 C376.38,415.70 377.15,415.47 378.00,414.70 C378.85,413.93 379.67,412.98 380.50,411.30 C381.33,409.62 382.15,406.83 383.00,404.60 C383.85,402.37 384.75,399.87 385.60,397.90 C386.45,395.93 387.27,394.20 388.10,392.80 C388.93,391.40 389.77,390.42 390.60,389.50 C391.43,388.58 392.25,388.15 393.10,387.30 C393.95,386.45 394.85,385.87 395.70,384.40 C396.55,382.93 397.37,380.32 398.20,378.50 C399.03,376.68 399.87,374.90 400.70,373.50 C401.53,372.10 402.28,370.93 403.20,370.10 C404.12,369.27 405.22,368.50 406.20,368.50 C407.18,368.50 408.20,369.13 409.10,370.10 C410.00,371.07 410.75,372.47 411.60,374.30 C412.45,376.13 413.42,378.98 414.20,381.10 C414.98,383.22 415.60,385.60 416.30,387.00 C417.00,388.40 417.72,389.37 418.40,389.50 C419.08,389.63 419.70,389.20 420.40,387.80 C421.10,386.40 421.82,383.20 422.60,381.10 C423.38,379.00 424.27,376.75 425.10,375.20 C425.93,373.65 426.77,372.78 427.60,371.80 C428.43,370.82 429.40,370.28 430.10,369.30 C430.80,368.32 431.28,367.02 431.80,365.90 C432.32,364.78 432.83,364.08 433.20,362.60 C433.57,361.12 433.87,357.93 434.00,357.00" fill="none" stroke="#000000" stroke-width="1.9" stroke-linejoin="round" stroke-linecap="round"/>
</g>
<g clip-path="url(#c2b3)">
<path d="M502.30,432.30 L503.30,402.00 C503.48,402.85 503.95,405.55 504.40,407.10 C504.85,408.65 505.30,410.17 506.00,411.30 C506.70,412.43 507.75,413.62 508.60,413.90 C509.45,414.18 510.27,413.57 511.10,413.00 C511.93,412.43 512.77,411.25 513.60,410.50 C514.43,409.75 515.25,409.00 516.10,408.50 C516.95,408.00 517.92,407.50 518.70,407.50 C519.48,407.50 520.10,407.87 520.80,408.50 C521.50,409.13 522.13,410.27 522.90,411.30 C523.67,412.33 524.57,413.72 525.40,414.70 C526.23,415.68 526.92,416.55 527.90,417.20 C528.88,417.85 530.18,418.32 531.30,418.60 C532.42,418.88 533.48,418.90 534.60,418.90 C535.72,418.90 536.87,418.73 538.00,418.60 C539.13,418.47 540.28,418.38 541.40,418.10 C542.52,417.82 543.73,417.18 544.70,416.90 C545.67,416.62 546.35,416.28 547.20,416.40 C548.05,416.52 548.95,417.05 549.80,417.60 C550.65,418.15 551.47,418.92 552.30,419.70 C553.13,420.48 553.82,421.32 554.80,422.30 C555.78,423.28 557.08,424.72 558.20,425.60 C559.32,426.48 560.52,427.32 561.50,427.60 C562.48,427.88 563.25,427.63 564.10,427.30 C564.95,426.97 565.63,426.43 566.60,425.60 C567.57,424.77 568.78,423.55 569.90,422.30 C571.02,421.05 572.17,419.37 573.30,418.10 C574.43,416.83 575.58,415.55 576.70,414.70 C577.82,413.85 578.88,413.13 580.00,413.00 C581.12,412.87 582.27,413.33 583.40,413.90 C584.53,414.47 585.68,415.55 586.80,416.40 C587.92,417.25 589.00,418.37 590.10,419.00 C591.20,419.63 592.30,420.08 593.40,420.20 C594.50,420.32 595.73,420.20 596.70,419.70 C597.67,419.20 598.35,418.45 599.20,417.20 C600.05,415.95 600.95,413.88 601.80,412.20 C602.65,410.52 603.60,409.35 604.30,407.10 C605.00,404.85 605.43,401.78 606.00,398.70 C606.57,395.62 607.15,391.68 607.70,388.60 C608.25,385.52 608.75,383.00 609.30,380.20 C609.85,377.40 610.30,374.18 611.00,371.80 C611.70,369.42 612.73,366.97 613.50,365.90 C614.27,364.83 614.98,364.97 615.60,365.40 C616.22,365.83 616.65,366.87 617.20,368.50 C617.75,370.13 618.33,372.97 618.90,375.20 C619.47,377.43 619.95,380.08 620.60,381.90 C621.25,383.72 622.15,385.53 622.80,386.10 C623.45,386.67 623.85,386.00 624.50,385.30 C625.15,384.60 625.95,382.80 626.70,381.90 C627.45,381.00 628.12,380.32 629.00,379.90 C629.88,379.48 630.93,379.63 632.00,379.40 C633.07,379.17 634.27,378.83 635.40,378.50 C636.53,378.17 637.82,377.67 638.80,377.40 C639.78,377.13 640.47,376.85 641.30,376.90 C642.13,376.95 642.97,377.15 643.80,377.70 C644.63,378.25 645.45,379.22 646.30,380.20 C647.15,381.18 648.05,382.62 648.90,383.60 C649.75,384.58 650.57,385.40 651.40,386.10 C652.23,386.80 652.92,387.72 653.90,387.80 C654.88,387.88 656.18,387.08 657.30,386.60 C658.42,386.12 659.48,385.47 660.60,384.90 C661.72,384.33 662.87,383.70 664.00,383.20 C665.13,382.70 666.42,381.98 667.40,381.90 C668.38,381.82 669.07,381.85 669.90,382.70 C670.73,383.55 671.57,385.58 672.40,387.00 C673.23,388.42 674.07,389.80 674.90,391.20 C675.73,392.60 676.42,394.08 677.40,395.40 C678.38,396.72 680.23,398.48 680.80,399.10 L681.80,399.10 L681.80,432.30 Z" fill="#04a218"/>
<path d="M503.30,429.00 C504.60,429.05 508.12,429.25 511.10,429.30 C514.08,429.35 517.83,429.35 521.20,429.30 C524.57,429.25 527.93,429.20 531.30,429.00 C534.67,428.80 538.05,428.10 541.40,428.10 C544.75,428.10 548.05,428.80 551.40,429.00 C554.75,429.20 558.13,429.37 561.50,429.30 C564.87,429.23 568.78,428.80 571.60,428.60 C574.42,428.40 576.15,428.10 578.40,428.10 C580.65,428.10 583.17,428.48 585.10,428.60 C587.03,428.72 588.77,429.02 590.00,428.80 C591.23,428.58 591.67,428.10 592.50,427.30 C593.33,426.50 594.15,425.27 595.00,424.00 C595.85,422.73 596.75,421.12 597.60,419.70 C598.45,418.28 599.27,416.62 600.10,415.50 C600.93,414.38 601.77,413.50 602.60,413.00 C603.43,412.50 604.25,412.08 605.10,412.50 C605.95,412.92 606.85,414.43 607.70,415.50 C608.55,416.57 609.23,417.92 610.20,418.90 C611.17,419.88 612.38,420.83 613.50,421.40 C614.62,421.97 615.77,422.43 616.90,422.30 C618.03,422.17 619.18,421.30 620.30,420.60 C621.42,419.90 622.48,418.60 623.60,418.10 C624.72,417.60 625.87,417.60 627.00,417.60 C628.13,417.60 629.33,418.30 630.40,418.10 C631.47,417.90 632.57,417.38 633.40,416.40 C634.23,415.42 634.73,414.03 635.40,412.20 C636.07,410.37 636.70,407.93 637.40,405.40 C638.10,402.87 638.82,399.80 639.60,397.00 C640.38,394.20 641.27,390.98 642.10,388.60 C642.93,386.22 643.75,384.38 644.60,382.70 C645.45,381.02 646.35,379.53 647.20,378.50 C648.05,377.47 648.92,377.33 649.70,376.50 C650.48,375.67 651.20,374.83 651.90,373.50 C652.60,372.17 653.28,370.05 653.90,368.50 C654.52,366.95 655.10,365.33 655.60,364.20 C656.10,363.07 656.53,363.07 656.90,361.70 C657.27,360.33 657.65,356.95 657.80,356.00" fill="none" stroke="#c8aa00" stroke-width="1.9" stroke-linejoin="round" stroke-linecap="round"/>
<path d="M503.30,409.60 C503.75,409.88 504.98,410.65 506.00,411.30 C507.02,411.95 508.27,412.73 509.40,413.50 C510.53,414.27 511.68,415.28 512.80,415.90 C513.92,416.52 515.12,417.10 516.10,417.20 C517.08,417.30 517.72,417.00 518.70,416.50 C519.68,416.00 520.88,414.70 522.00,414.20 C523.12,413.70 524.42,413.33 525.40,413.50 C526.38,413.67 527.07,414.35 527.90,415.20 C528.73,416.05 529.42,417.65 530.40,418.60 C531.38,419.55 532.67,420.43 533.80,420.90 C534.93,421.37 536.08,421.52 537.20,421.40 C538.32,421.28 539.38,420.57 540.50,420.20 C541.62,419.83 542.78,419.28 543.90,419.20 C545.02,419.12 546.08,419.47 547.20,419.70 C548.32,419.93 549.47,420.32 550.60,420.60 C551.73,420.88 552.88,421.18 554.00,421.40 C555.12,421.62 556.18,421.82 557.30,421.90 C558.42,421.98 559.57,421.98 560.70,421.90 C561.83,421.82 562.98,421.77 564.10,421.40 C565.22,421.03 566.43,420.33 567.40,419.70 C568.37,419.07 569.05,418.57 569.90,417.60 C570.75,416.63 571.65,415.13 572.50,413.90 C573.35,412.67 574.17,411.18 575.00,410.20 C575.83,409.22 576.67,408.45 577.50,408.00 C578.33,407.55 579.15,407.32 580.00,407.50 C580.85,407.68 581.75,408.32 582.60,409.10 C583.45,409.88 584.27,411.35 585.10,412.20 C585.93,413.05 586.78,413.92 587.60,414.20 C588.42,414.48 589.18,414.38 590.00,413.90 C590.82,413.42 591.67,412.72 592.50,411.30 C593.33,409.88 594.15,407.27 595.00,405.40 C595.85,403.53 596.75,401.77 597.60,400.10 C598.45,398.43 599.27,396.75 600.10,395.40 C600.93,394.05 601.62,392.80 602.60,392.00 C603.58,391.20 605.02,390.47 606.00,390.60 C606.98,390.73 607.67,392.00 608.50,392.80 C609.33,393.60 610.17,394.83 611.00,395.40 C611.83,395.97 612.65,396.27 613.50,396.20 C614.35,396.13 615.25,395.75 616.10,395.00 C616.95,394.25 617.77,392.82 618.60,391.70 C619.43,390.58 620.27,388.95 621.10,388.30 C621.93,387.65 622.75,387.60 623.60,387.80 C624.45,388.00 625.35,388.52 626.20,389.50 C627.05,390.48 627.73,392.22 628.70,393.70 C629.67,395.18 630.93,397.33 632.00,398.40 C633.07,399.47 634.12,400.10 635.10,400.10 C636.08,400.10 637.02,399.33 637.90,398.40 C638.78,397.47 639.55,396.13 640.40,394.50 C641.25,392.87 642.15,390.42 643.00,388.60 C643.85,386.78 644.67,385.00 645.50,383.60 C646.33,382.20 647.17,381.10 648.00,380.20 C648.83,379.30 649.65,378.62 650.50,378.20 C651.35,377.78 652.25,377.65 653.10,377.70 C653.95,377.75 654.77,378.13 655.60,378.50 C656.43,378.87 657.27,379.38 658.10,379.90 C658.93,380.42 659.77,381.22 660.60,381.60 C661.43,381.98 662.25,382.43 663.10,382.20 C663.95,381.97 664.85,381.23 665.70,380.20 C666.55,379.17 667.37,377.53 668.20,376.00 C669.03,374.47 669.87,372.48 670.70,371.00 C671.53,369.52 672.35,368.08 673.20,367.10 C674.05,366.12 674.95,365.48 675.80,365.10 C676.65,364.72 677.47,364.85 678.30,364.80 C679.13,364.75 680.38,364.80 680.80,364.80" fill="none" stroke="#ff0000" stroke-width="1.9" stroke-linejoin="round" stroke-linecap="round"/>
<path d="M503.30,408.50 C503.75,408.68 504.98,408.98 506.00,409.60 C507.02,410.22 508.27,411.27 509.40,412.20 C510.53,413.13 511.68,414.42 512.80,415.20 C513.92,415.98 515.12,416.78 516.10,416.90 C517.08,417.02 517.72,416.55 518.70,415.90 C519.68,415.25 520.88,413.62 522.00,413.00 C523.12,412.38 524.42,412.05 525.40,412.20 C526.38,412.35 527.07,413.00 527.90,413.90 C528.73,414.80 529.42,416.55 530.40,417.60 C531.38,418.65 532.67,419.70 533.80,420.20 C534.93,420.70 536.08,420.77 537.20,420.60 C538.32,420.43 539.38,419.62 540.50,419.20 C541.62,418.78 542.78,418.20 543.90,418.10 C545.02,418.00 546.08,418.33 547.20,418.60 C548.32,418.87 549.47,419.37 550.60,419.70 C551.73,420.03 552.88,420.40 554.00,420.60 C555.12,420.80 556.18,420.85 557.30,420.90 C558.42,420.95 559.57,421.02 560.70,420.90 C561.83,420.78 562.98,420.58 564.10,420.20 C565.22,419.82 566.43,419.32 567.40,418.60 C568.37,417.88 569.05,417.03 569.90,415.90 C570.75,414.77 571.65,413.12 572.50,411.80 C573.35,410.48 574.17,409.07 575.00,408.00 C575.83,406.93 576.67,405.88 577.50,405.40 C578.33,404.92 579.15,404.82 580.00,405.10 C580.85,405.38 581.75,406.20 582.60,407.10 C583.45,408.00 584.27,409.60 585.10,410.50 C585.93,411.40 586.78,412.22 587.60,412.50 C588.42,412.78 589.18,412.82 590.00,412.20 C590.82,411.58 591.67,410.77 592.50,408.80 C593.33,406.83 594.15,403.48 595.00,400.40 C595.85,397.32 596.75,393.38 597.60,390.30 C598.45,387.22 599.27,384.42 600.10,381.90 C600.93,379.38 601.70,376.73 602.60,375.20 C603.50,373.67 604.57,372.70 605.50,372.70 C606.43,372.70 607.37,373.80 608.20,375.20 C609.03,376.60 609.75,379.42 610.50,381.10 C611.25,382.78 611.92,384.38 612.70,385.30 C613.48,386.22 614.37,386.88 615.20,386.60 C616.03,386.32 616.85,384.95 617.70,383.60 C618.55,382.25 619.37,379.97 620.30,378.50 C621.23,377.03 622.32,375.22 623.30,374.80 C624.28,374.38 625.30,375.10 626.20,376.00 C627.10,376.90 627.87,378.80 628.70,380.20 C629.53,381.60 630.42,383.50 631.20,384.40 C631.98,385.30 632.70,385.73 633.40,385.60 C634.10,385.47 634.78,384.78 635.40,383.60 C636.02,382.42 636.53,380.75 637.10,378.50 C637.67,376.25 638.25,372.90 638.80,370.10 C639.35,367.30 640.00,364.05 640.40,361.70 C640.80,359.35 641.07,356.95 641.20,356.00" fill="none" stroke="#000000" stroke-width="1.9" stroke-linejoin="round" stroke-linecap="round"/>
</g>
<rect x="75.7" y="37.6" width="177.9" height="69.6" fill="none" stroke="#333" stroke-width="1.2"/>
<line x1="70.5" x2="75.7" y1="107.2" y2="107.2" stroke="#333" stroke-width="1.2"/>
<text x="66.1" y="112.55" font-size="15" text-anchor="end">0</text>
<line x1="70.5" x2="75.7" y1="72.4" y2="72.4" stroke="#333" stroke-width="1.2"/>
<text x="66.1" y="77.75" font-size="15" text-anchor="end">100</text>
<line x1="70.5" x2="75.7" y1="37.6" y2="37.6" stroke="#333" stroke-width="1.2"/>
<text x="66.1" y="42.95" font-size="15" text-anchor="end">200</text>
<line x1="75.7" x2="75.7" y1="107.2" y2="112.4" stroke="#333" stroke-width="1.2"/>
<text x="75.7" y="128.6" font-size="15" text-anchor="middle">-10</text>
<line x1="101.11" x2="101.11" y1="107.2" y2="112.4" stroke="#333" stroke-width="1.2"/>
<text x="101.11" y="128.6" font-size="15" text-anchor="middle">-8</text>
<line x1="126.53" x2="126.53" y1="107.2" y2="112.4" stroke="#333" stroke-width="1.2"/>
<text x="126.53" y="128.6" font-size="15" text-anchor="middle">-6</text>
<line x1="151.94" x2="151.94" y1="107.2" y2="112.4" stroke="#333" stroke-width="1.2"/>
<text x="151.94" y="128.6" font-size="15" text-anchor="middle">-4</text>
<line x1="177.36" x2="177.36" y1="107.2" y2="112.4" stroke="#333" stroke-width="1.2"/>
<text x="177.36" y="128.6" font-size="15" text-anchor="middle">-2</text>
<line x1="202.77" x2="202.77" y1="107.2" y2="112.4" stroke="#333" stroke-width="1.2"/>
<text x="202.77" y="128.6" font-size="15" text-anchor="middle">0</text>
<line x1="228.19" x2="228.19" y1="107.2" y2="112.4" stroke="#333" stroke-width="1.2"/>
<text x="228.19" y="128.6" font-size="15" text-anchor="middle">2</text>
<line x1="253.6" x2="253.6" y1="107.2" y2="112.4" stroke="#333" stroke-width="1.2"/>
<text x="253.6" y="128.6" font-size="15" text-anchor="middle">4</text>
<text y="146.6" font-size="13.2"><tspan x="133.9">E</tspan><tspan x="144.75">–</tspan><tspan x="155">E</tspan><tspan x="162.85" font-size="9" dy="3">F</tspan><tspan x="170.8" dy="-3">(eV)</tspan></text>
<rect x="75.7" y="166.7" width="177.9" height="69.6" fill="none" stroke="#333" stroke-width="1.2"/>
<line x1="70.5" x2="75.7" y1="236.3" y2="236.3" stroke="#333" stroke-width="1.2"/>
<text x="66.1" y="241.65" font-size="15" text-anchor="end">0</text>
<line x1="70.5" x2="75.7" y1="201.5" y2="201.5" stroke="#333" stroke-width="1.2"/>
<text x="66.1" y="206.85" font-size="15" text-anchor="end">50</text>
<line x1="70.5" x2="75.7" y1="166.7" y2="166.7" stroke="#333" stroke-width="1.2"/>
<text x="66.1" y="172.05" font-size="15" text-anchor="end">100</text>
<line x1="75.7" x2="75.7" y1="236.3" y2="241.5" stroke="#333" stroke-width="1.2"/>
<line x1="120.17" x2="120.17" y1="236.3" y2="241.5" stroke="#333" stroke-width="1.2"/>
<line x1="164.65" x2="164.65" y1="236.3" y2="241.5" stroke="#333" stroke-width="1.2"/>
<line x1="209.12" x2="209.12" y1="236.3" y2="241.5" stroke="#333" stroke-width="1.2"/>
<line x1="253.6" x2="253.6" y1="236.3" y2="241.5" stroke="#333" stroke-width="1.2"/>
<rect x="75.7" y="264.3" width="177.9" height="69.4" fill="none" stroke="#333" stroke-width="1.2"/>
<line x1="70.5" x2="75.7" y1="333.7" y2="333.7" stroke="#333" stroke-width="1.2"/>
<text x="66.1" y="339.05" font-size="15" text-anchor="end">0</text>
<line x1="70.5" x2="75.7" y1="310.57" y2="310.57" stroke="#333" stroke-width="1.2"/>
<text x="66.1" y="315.92" font-size="15" text-anchor="end">5</text>
<line x1="70.5" x2="75.7" y1="287.43" y2="287.43" stroke="#333" stroke-width="1.2"/>
<text x="66.1" y="292.78" font-size="15" text-anchor="end">10</text>
<line x1="70.5" x2="75.7" y1="264.3" y2="264.3" stroke="#333" stroke-width="1.2"/>
<text x="66.1" y="269.65" font-size="15" text-anchor="end">15</text>
<line x1="75.7" x2="75.7" y1="333.7" y2="338.9" stroke="#333" stroke-width="1.2"/>
<line x1="120.17" x2="120.17" y1="333.7" y2="338.9" stroke="#333" stroke-width="1.2"/>
<line x1="164.65" x2="164.65" y1="333.7" y2="338.9" stroke="#333" stroke-width="1.2"/>
<line x1="209.12" x2="209.12" y1="333.7" y2="338.9" stroke="#333" stroke-width="1.2"/>
<line x1="253.6" x2="253.6" y1="333.7" y2="338.9" stroke="#333" stroke-width="1.2"/>
<rect x="75.7" y="361.3" width="177.9" height="70" fill="none" stroke="#333" stroke-width="1.2"/>
<line x1="70.5" x2="75.7" y1="431.3" y2="431.3" stroke="#333" stroke-width="1.2"/>
<text x="66.1" y="436.65" font-size="15" text-anchor="end">0</text>
<line x1="70.5" x2="75.7" y1="396.3" y2="396.3" stroke="#333" stroke-width="1.2"/>
<text x="66.1" y="401.65" font-size="15" text-anchor="end">5</text>
<line x1="70.5" x2="75.7" y1="361.3" y2="361.3" stroke="#333" stroke-width="1.2"/>
<text x="66.1" y="366.65" font-size="15" text-anchor="end">10</text>
<line x1="75.7" x2="75.7" y1="431.3" y2="436.5" stroke="#333" stroke-width="1.2"/>
<text x="75.7" y="452.7" font-size="15" text-anchor="middle">-2</text>
<line x1="120.17" x2="120.17" y1="431.3" y2="436.5" stroke="#333" stroke-width="1.2"/>
<text x="120.17" y="452.7" font-size="15" text-anchor="middle">-1</text>
<line x1="164.65" x2="164.65" y1="431.3" y2="436.5" stroke="#333" stroke-width="1.2"/>
<text x="164.65" y="452.7" font-size="15" text-anchor="middle">0</text>
<line x1="209.12" x2="209.12" y1="431.3" y2="436.5" stroke="#333" stroke-width="1.2"/>
<text x="209.12" y="452.7" font-size="15" text-anchor="middle">1</text>
<line x1="253.6" x2="253.6" y1="431.3" y2="436.5" stroke="#333" stroke-width="1.2"/>
<text x="253.6" y="452.7" font-size="15" text-anchor="middle">2</text>
<text y="471.8" font-size="13.2"><tspan x="133.9">E</tspan><tspan x="144.75">–</tspan><tspan x="155">E</tspan><tspan x="162.85" font-size="9" dy="3">F</tspan><tspan x="170.8" dy="-3">(eV)</tspan></text>
<rect x="289.6" y="37.6" width="178.1" height="69.6" fill="none" stroke="#333" stroke-width="1.2"/>
<line x1="284.4" x2="289.6" y1="107.2" y2="107.2" stroke="#333" stroke-width="1.2"/>
<line x1="284.4" x2="289.6" y1="72.4" y2="72.4" stroke="#333" stroke-width="1.2"/>
<line x1="284.4" x2="289.6" y1="37.6" y2="37.6" stroke="#333" stroke-width="1.2"/>
<line x1="289.6" x2="289.6" y1="107.2" y2="112.4" stroke="#333" stroke-width="1.2"/>
<text x="289.6" y="128.6" font-size="15" text-anchor="middle">-10</text>
<line x1="315.04" x2="315.04" y1="107.2" y2="112.4" stroke="#333" stroke-width="1.2"/>
<text x="315.04" y="128.6" font-size="15" text-anchor="middle">-8</text>
<line x1="340.49" x2="340.49" y1="107.2" y2="112.4" stroke="#333" stroke-width="1.2"/>
<text x="340.49" y="128.6" font-size="15" text-anchor="middle">-6</text>
<line x1="365.93" x2="365.93" y1="107.2" y2="112.4" stroke="#333" stroke-width="1.2"/>
<text x="365.93" y="128.6" font-size="15" text-anchor="middle">-4</text>
<line x1="391.37" x2="391.37" y1="107.2" y2="112.4" stroke="#333" stroke-width="1.2"/>
<text x="391.37" y="128.6" font-size="15" text-anchor="middle">-2</text>
<line x1="416.81" x2="416.81" y1="107.2" y2="112.4" stroke="#333" stroke-width="1.2"/>
<text x="416.81" y="128.6" font-size="15" text-anchor="middle">0</text>
<line x1="442.26" x2="442.26" y1="107.2" y2="112.4" stroke="#333" stroke-width="1.2"/>
<text x="442.26" y="128.6" font-size="15" text-anchor="middle">2</text>
<line x1="467.7" x2="467.7" y1="107.2" y2="112.4" stroke="#333" stroke-width="1.2"/>
<text x="467.7" y="128.6" font-size="15" text-anchor="middle">4</text>
<text y="146.6" font-size="13.2"><tspan x="347.9">E</tspan><tspan x="358.75">–</tspan><tspan x="369">E</tspan><tspan x="376.85" font-size="9" dy="3">F</tspan><tspan x="384.8" dy="-3">(eV)</tspan></text>
<rect x="289.6" y="166.7" width="178.1" height="69.6" fill="none" stroke="#333" stroke-width="1.2"/>
<line x1="284.4" x2="289.6" y1="236.3" y2="236.3" stroke="#333" stroke-width="1.2"/>
<line x1="284.4" x2="289.6" y1="201.5" y2="201.5" stroke="#333" stroke-width="1.2"/>
<line x1="284.4" x2="289.6" y1="166.7" y2="166.7" stroke="#333" stroke-width="1.2"/>
<line x1="289.6" x2="289.6" y1="236.3" y2="241.5" stroke="#333" stroke-width="1.2"/>
<line x1="334.12" x2="334.12" y1="236.3" y2="241.5" stroke="#333" stroke-width="1.2"/>
<line x1="378.65" x2="378.65" y1="236.3" y2="241.5" stroke="#333" stroke-width="1.2"/>
<line x1="423.18" x2="423.18" y1="236.3" y2="241.5" stroke="#333" stroke-width="1.2"/>
<line x1="467.7" x2="467.7" y1="236.3" y2="241.5" stroke="#333" stroke-width="1.2"/>
<rect x="289.6" y="264.3" width="178.1" height="69.4" fill="none" stroke="#333" stroke-width="1.2"/>
<line x1="284.4" x2="289.6" y1="333.7" y2="333.7" stroke="#333" stroke-width="1.2"/>
<line x1="284.4" x2="289.6" y1="310.57" y2="310.57" stroke="#333" stroke-width="1.2"/>
<line x1="284.4" x2="289.6" y1="287.43" y2="287.43" stroke="#333" stroke-width="1.2"/>
<line x1="284.4" x2="289.6" y1="264.3" y2="264.3" stroke="#333" stroke-width="1.2"/>
<line x1="289.6" x2="289.6" y1="333.7" y2="338.9" stroke="#333" stroke-width="1.2"/>
<line x1="334.12" x2="334.12" y1="333.7" y2="338.9" stroke="#333" stroke-width="1.2"/>
<line x1="378.65" x2="378.65" y1="333.7" y2="338.9" stroke="#333" stroke-width="1.2"/>
<line x1="423.18" x2="423.18" y1="333.7" y2="338.9" stroke="#333" stroke-width="1.2"/>
<line x1="467.7" x2="467.7" y1="333.7" y2="338.9" stroke="#333" stroke-width="1.2"/>
<rect x="289.6" y="361.3" width="178.1" height="70" fill="none" stroke="#333" stroke-width="1.2"/>
<line x1="284.4" x2="289.6" y1="431.3" y2="431.3" stroke="#333" stroke-width="1.2"/>
<line x1="284.4" x2="289.6" y1="396.3" y2="396.3" stroke="#333" stroke-width="1.2"/>
<line x1="284.4" x2="289.6" y1="361.3" y2="361.3" stroke="#333" stroke-width="1.2"/>
<line x1="289.6" x2="289.6" y1="431.3" y2="436.5" stroke="#333" stroke-width="1.2"/>
<text x="289.6" y="452.7" font-size="15" text-anchor="middle">-2</text>
<line x1="334.12" x2="334.12" y1="431.3" y2="436.5" stroke="#333" stroke-width="1.2"/>
<text x="334.12" y="452.7" font-size="15" text-anchor="middle">-1</text>
<line x1="378.65" x2="378.65" y1="431.3" y2="436.5" stroke="#333" stroke-width="1.2"/>
<text x="378.65" y="452.7" font-size="15" text-anchor="middle">0</text>
<line x1="423.18" x2="423.18" y1="431.3" y2="436.5" stroke="#333" stroke-width="1.2"/>
<text x="423.18" y="452.7" font-size="15" text-anchor="middle">1</text>
<line x1="467.7" x2="467.7" y1="431.3" y2="436.5" stroke="#333" stroke-width="1.2"/>
<text x="467.7" y="452.7" font-size="15" text-anchor="middle">2</text>
<text y="471.8" font-size="13.2"><tspan x="347.9">E</tspan><tspan x="358.75">–</tspan><tspan x="369">E</tspan><tspan x="376.85" font-size="9" dy="3">F</tspan><tspan x="384.8" dy="-3">(eV)</tspan></text>
<rect x="503.3" y="37.6" width="177.5" height="69.6" fill="none" stroke="#333" stroke-width="1.2"/>
<line x1="498.1" x2="503.3" y1="107.2" y2="107.2" stroke="#333" stroke-width="1.2"/>
<line x1="498.1" x2="503.3" y1="72.4" y2="72.4" stroke="#333" stroke-width="1.2"/>
<line x1="498.1" x2="503.3" y1="37.6" y2="37.6" stroke="#333" stroke-width="1.2"/>
<line x1="503.3" x2="503.3" y1="107.2" y2="112.4" stroke="#333" stroke-width="1.2"/>
<text x="503.3" y="128.6" font-size="15" text-anchor="middle">-10</text>
<line x1="528.66" x2="528.66" y1="107.2" y2="112.4" stroke="#333" stroke-width="1.2"/>
<text x="528.66" y="128.6" font-size="15" text-anchor="middle">-8</text>
<line x1="554.01" x2="554.01" y1="107.2" y2="112.4" stroke="#333" stroke-width="1.2"/>
<text x="554.01" y="128.6" font-size="15" text-anchor="middle">-6</text>
<line x1="579.37" x2="579.37" y1="107.2" y2="112.4" stroke="#333" stroke-width="1.2"/>
<text x="579.37" y="128.6" font-size="15" text-anchor="middle">-4</text>
<line x1="604.73" x2="604.73" y1="107.2" y2="112.4" stroke="#333" stroke-width="1.2"/>
<text x="604.73" y="128.6" font-size="15" text-anchor="middle">-2</text>
<line x1="630.09" x2="630.09" y1="107.2" y2="112.4" stroke="#333" stroke-width="1.2"/>
<text x="630.09" y="128.6" font-size="15" text-anchor="middle">0</text>
<line x1="655.44" x2="655.44" y1="107.2" y2="112.4" stroke="#333" stroke-width="1.2"/>
<text x="655.44" y="128.6" font-size="15" text-anchor="middle">2</text>
<line x1="680.8" x2="680.8" y1="107.2" y2="112.4" stroke="#333" stroke-width="1.2"/>
<text x="680.8" y="128.6" font-size="15" text-anchor="middle">4</text>
<text y="146.6" font-size="13.2"><tspan x="561.3">E</tspan><tspan x="572.15">–</tspan><tspan x="582.4">E</tspan><tspan x="590.25" font-size="9" dy="3">F</tspan><tspan x="598.2" dy="-3">(eV)</tspan></text>
<rect x="503.3" y="166.7" width="177.5" height="69.6" fill="none" stroke="#333" stroke-width="1.2"/>
<line x1="498.1" x2="503.3" y1="236.3" y2="236.3" stroke="#333" stroke-width="1.2"/>
<line x1="498.1" x2="503.3" y1="201.5" y2="201.5" stroke="#333" stroke-width="1.2"/>
<line x1="498.1" x2="503.3" y1="166.7" y2="166.7" stroke="#333" stroke-width="1.2"/>
<line x1="503.3" x2="503.3" y1="236.3" y2="241.5" stroke="#333" stroke-width="1.2"/>
<line x1="547.67" x2="547.67" y1="236.3" y2="241.5" stroke="#333" stroke-width="1.2"/>
<line x1="592.05" x2="592.05" y1="236.3" y2="241.5" stroke="#333" stroke-width="1.2"/>
<line x1="636.42" x2="636.42" y1="236.3" y2="241.5" stroke="#333" stroke-width="1.2"/>
<line x1="680.8" x2="680.8" y1="236.3" y2="241.5" stroke="#333" stroke-width="1.2"/>
<rect x="503.3" y="264.3" width="177.5" height="69.4" fill="none" stroke="#333" stroke-width="1.2"/>
<line x1="498.1" x2="503.3" y1="333.7" y2="333.7" stroke="#333" stroke-width="1.2"/>
<line x1="498.1" x2="503.3" y1="310.57" y2="310.57" stroke="#333" stroke-width="1.2"/>
<line x1="498.1" x2="503.3" y1="287.43" y2="287.43" stroke="#333" stroke-width="1.2"/>
<line x1="498.1" x2="503.3" y1="264.3" y2="264.3" stroke="#333" stroke-width="1.2"/>
<line x1="503.3" x2="503.3" y1="333.7" y2="338.9" stroke="#333" stroke-width="1.2"/>
<line x1="547.67" x2="547.67" y1="333.7" y2="338.9" stroke="#333" stroke-width="1.2"/>
<line x1="592.05" x2="592.05" y1="333.7" y2="338.9" stroke="#333" stroke-width="1.2"/>
<line x1="636.42" x2="636.42" y1="333.7" y2="338.9" stroke="#333" stroke-width="1.2"/>
<line x1="680.8" x2="680.8" y1="333.7" y2="338.9" stroke="#333" stroke-width="1.2"/>
<rect x="503.3" y="361.3" width="177.5" height="70" fill="none" stroke="#333" stroke-width="1.2"/>
<line x1="498.1" x2="503.3" y1="431.3" y2="431.3" stroke="#333" stroke-width="1.2"/>
<line x1="498.1" x2="503.3" y1="396.3" y2="396.3" stroke="#333" stroke-width="1.2"/>
<line x1="498.1" x2="503.3" y1="361.3" y2="361.3" stroke="#333" stroke-width="1.2"/>
<line x1="503.3" x2="503.3" y1="431.3" y2="436.5" stroke="#333" stroke-width="1.2"/>
<text x="503.3" y="452.7" font-size="15" text-anchor="middle">-2</text>
<line x1="547.67" x2="547.67" y1="431.3" y2="436.5" stroke="#333" stroke-width="1.2"/>
<text x="547.67" y="452.7" font-size="15" text-anchor="middle">-1</text>
<line x1="592.05" x2="592.05" y1="431.3" y2="436.5" stroke="#333" stroke-width="1.2"/>
<text x="592.05" y="452.7" font-size="15" text-anchor="middle">0</text>
<line x1="636.42" x2="636.42" y1="431.3" y2="436.5" stroke="#333" stroke-width="1.2"/>
<text x="636.42" y="452.7" font-size="15" text-anchor="middle">1</text>
<line x1="680.8" x2="680.8" y1="431.3" y2="436.5" stroke="#333" stroke-width="1.2"/>
<text x="680.8" y="452.7" font-size="15" text-anchor="middle">2</text>
<text y="471.8" font-size="13.2"><tspan x="561.3">E</tspan><tspan x="572.15">–</tspan><tspan x="582.4">E</tspan><tspan x="590.25" font-size="9" dy="3">F</tspan><tspan x="598.2" dy="-3">(eV)</tspan></text>
<text transform="translate(16.2,73.3) rotate(-90)" font-size="14.3" text-anchor="middle">pDOS</text>
<text transform="translate(33.6,73.3) rotate(-90)" font-size="14.3" text-anchor="middle">(states/eV)</text>
<text transform="translate(16.2,202.4) rotate(-90)" font-size="14.3" text-anchor="middle">pDOS</text>
<text transform="translate(33.6,202.4) rotate(-90)" font-size="14.3" text-anchor="middle">(states/eV)</text>
<text transform="translate(16.2,299.9) rotate(-90)" font-size="14.3" text-anchor="middle">pDOS</text>
<text transform="translate(33.6,299.9) rotate(-90)" font-size="14.3" text-anchor="middle">(states/eV)</text>
<text transform="translate(16.2,397.2) rotate(-90)" font-size="14.3" text-anchor="middle">pDOS</text>
<text transform="translate(33.6,397.2) rotate(-90)" font-size="14.3" text-anchor="middle">(states/eV)</text>
<line x1="80.60" x2="91.90" y1="43.9" y2="43.9" stroke="#0000ff" stroke-width="2.1"/>
<text x="94.20" y="47.9" font-size="11">Ti</text>
<line x1="115.10" x2="126.40" y1="43.9" y2="43.9" stroke="#6b4400" stroke-width="2.1"/>
<text x="128.70" y="47.9" font-size="11">C</text>
<line x1="150.60" x2="161.90" y1="43.9" y2="43.9" stroke="#ff0000" stroke-width="2.1"/>
<text x="164.20" y="47.9" font-size="11">O</text>
<line x1="185.40" x2="196.70" y1="43.9" y2="43.9" stroke="#c8aa00" stroke-width="2.1"/>
<text x="199.00" y="47.9" font-size="11">B</text>
<line x1="79.2" x2="90.4" y1="172" y2="172" stroke="#0000ff" stroke-width="2.1"/>
<text x="94.3" y="176.9" font-size="10.5" letter-spacing="0.3">Ti(<tspan font-style="italic">d</tspan>)-BO<tspan font-size="7.5" dy="2.6">2</tspan></text>
<rect x="79.2" y="180.4" width="11.4" height="7.5" fill="#8e92f6"/>
<text x="94.3" y="188.9" font-size="10.5" letter-spacing="0.3">Ti(<tspan font-style="italic">d</tspan>)-Cl</text>
<line x1="79.2" x2="90.6" y1="270.5" y2="270.5" stroke="#6b4400" stroke-width="2.1"/>
<text x="94.3" y="274.4" font-size="10.5" letter-spacing="0.3">C(<tspan font-style="italic">p</tspan>)-BO<tspan font-size="7.5" dy="2.6">2</tspan></text>
<rect x="79.2" y="279.3" width="11.5" height="7.9" fill="#be8f8f"/>
<text x="94.3" y="286.6" font-size="10.5" letter-spacing="0.3">C(<tspan font-style="italic">p</tspan>)-Cl</text>
<line x1="79" x2="90.5" y1="367.3" y2="367.3" stroke="#ff0000" stroke-width="2.1"/>
<text x="93.9" y="371.2" font-size="10.5" letter-spacing="0.3">O(<tspan font-style="italic">p</tspan>)-BO<tspan font-size="7.5" dy="2.6">2</tspan></text>
<line x1="79" x2="90.5" y1="379.3" y2="379.3" stroke="#c8aa00" stroke-width="2.1"/>
<text x="93.9" y="383.2" font-size="10.5" letter-spacing="0.3">B(<tspan font-style="italic">p</tspan>)-BO<tspan font-size="7.5" dy="2.6">2</tspan></text>
<line x1="79" x2="90.5" y1="391.3" y2="391.3" stroke="#000000" stroke-width="2.1"/>
<text x="93.9" y="395.2" font-size="10.5" letter-spacing="0.3">BO<tspan font-size="7.5" dy="2.6">2</tspan></text>
<rect x="155.3" y="363.7" width="10.8" height="8" fill="#04a218"/>
<text x="170.2" y="371.3" font-size="10.5" letter-spacing="0.3">Cl(<tspan font-style="italic">p</tspan>)-Cl</text>
</g></svg></body></html>
